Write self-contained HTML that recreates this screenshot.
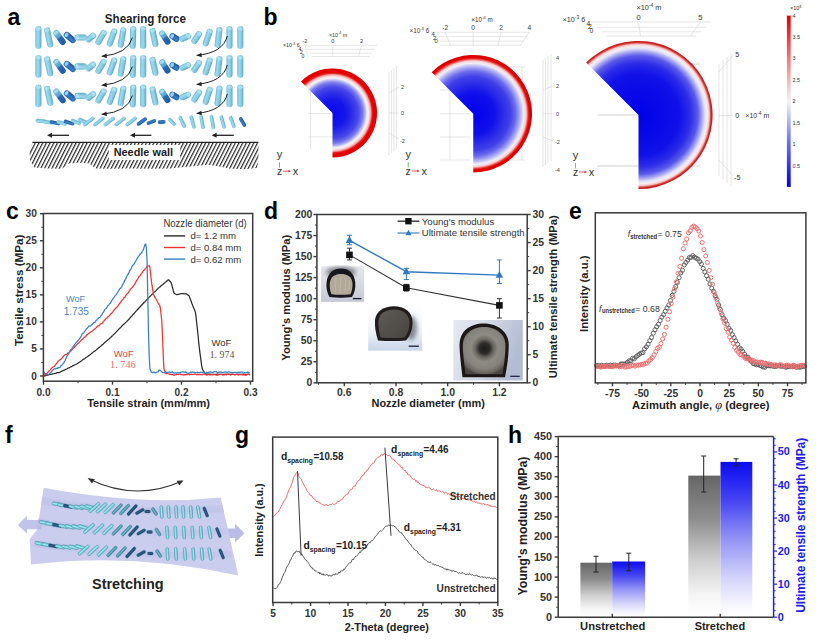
<!DOCTYPE html><html><head><meta charset="utf-8"><title>Figure</title>
<style>html,body{margin:0;padding:0;background:#fff;}svg{display:block;}</style>
</head><body>
<svg width="820" height="640" viewBox="0 0 820 640">
<rect width="820" height="640" fill="#fff"/>
<defs>
<linearGradient id="cylL" x1="0" y1="0" x2="1" y2="0">
 <stop offset="0" stop-color="#68b6d4"/><stop offset="0.3" stop-color="#9ed9ec"/><stop offset="0.6" stop-color="#8ccfe5"/><stop offset="1" stop-color="#5aa8c9"/>
</linearGradient>
<linearGradient id="cylD" x1="0" y1="0" x2="1" y2="0">
 <stop offset="0" stop-color="#1d5fa8"/><stop offset="0.4" stop-color="#3d80c4"/><stop offset="1" stop-color="#1a509a"/>
</linearGradient>
<linearGradient id="cylM" x1="0" y1="0" x2="0" y2="1">
 <stop offset="0" stop-color="#7cc4df"/><stop offset="0.45" stop-color="#5aa3d0"/><stop offset="0.55" stop-color="#2a69b3"/><stop offset="1" stop-color="#1f5aa3"/>
</linearGradient>
<linearGradient id="barGray" x1="0" y1="0" x2="0" y2="1">
 <stop offset="0" stop-color="#666"/><stop offset="0.3" stop-color="#8c8c8c"/><stop offset="0.6" stop-color="#cfcfcf"/><stop offset="0.85" stop-color="#f6f6f6"/><stop offset="1" stop-color="#fff"/>
</linearGradient>
<linearGradient id="barBlue" x1="0" y1="0" x2="0" y2="1">
 <stop offset="0" stop-color="#0a0af0"/><stop offset="0.25" stop-color="#4545f2"/><stop offset="0.5" stop-color="#9494f6"/><stop offset="0.75" stop-color="#d4d4fb"/><stop offset="0.92" stop-color="#f6f6fe"/><stop offset="1" stop-color="#fff"/>
</linearGradient>
<linearGradient id="cbar" x1="0" y1="1" x2="0" y2="0">
 <stop offset="0" stop-color="#0000e8"/><stop offset="0.25" stop-color="#6a6af0"/><stop offset="0.5" stop-color="#f4f4f8"/><stop offset="0.75" stop-color="#ee7a7a"/><stop offset="1" stop-color="#e00000"/>
</linearGradient>
<linearGradient id="sheet" x1="0" y1="0" x2="1" y2="1">
 <stop offset="0" stop-color="#c4c7ec"/><stop offset="1" stop-color="#c9cbe9"/>
</linearGradient>
<linearGradient id="ph1" x1="0" y1="0" x2="0" y2="1">
 <stop offset="0" stop-color="#e6e8ee"/><stop offset="1" stop-color="#c6cad6"/>
</linearGradient>
<linearGradient id="ph2" x1="0" y1="0" x2="0" y2="1">
 <stop offset="0" stop-color="#ffffff"/><stop offset="0.6" stop-color="#eef2f8"/><stop offset="1" stop-color="#c8d4e8"/>
</linearGradient>
<linearGradient id="ph3" x1="0" y1="0" x2="1" y2="1">
 <stop offset="0" stop-color="#f2f4f8"/><stop offset="0.5" stop-color="#d4dae6"/><stop offset="1" stop-color="#b4bed2"/>
</linearGradient>
<radialGradient id="in1" cx="0.5" cy="0.5" r="0.5">
 <stop offset="0" stop-color="#b5ad9e"/><stop offset="0.8" stop-color="#a49c8c"/><stop offset="1" stop-color="#6a645a"/>
</radialGradient>
<radialGradient id="in2" cx="0.5" cy="0.5" r="0.5">
 <stop offset="0" stop-color="#6a655d"/><stop offset="0.8" stop-color="#4e4a44"/><stop offset="1" stop-color="#2a2826"/>
</radialGradient>
<radialGradient id="in3" cx="0.5" cy="0.45" r="0.5">
 <stop offset="0" stop-color="#1e1c1a"/><stop offset="0.28" stop-color="#3a3734"/><stop offset="0.45" stop-color="#8a8680"/><stop offset="0.85" stop-color="#96928a"/><stop offset="1" stop-color="#4a4640"/>
</radialGradient>
<filter id="blur1" x="-20%" y="-20%" width="140%" height="140%"><feGaussianBlur stdDeviation="1.2"/></filter>
<filter id="blur2" x="-20%" y="-20%" width="140%" height="140%"><feGaussianBlur stdDeviation="2.2"/></filter>
<filter id="blur05"><feGaussianBlur stdDeviation="0.5"/></filter>
<pattern id="hatch" patternUnits="userSpaceOnUse" width="3.3" height="3.3" patternTransform="rotate(27)">
 <rect width="3.3" height="3.3" fill="#fff"/><rect x="0" y="0" width="1.2" height="3.3" fill="#2a2a2a"/>
</pattern>
</defs>
<text x="7.5" y="25.4" font-size="23" font-weight="bold" text-anchor="start" fill="#000" font-family='"Liberation Sans", Arial, sans-serif' >a</text>
<text x="145.4" y="22.7" font-size="12.4" font-weight="bold" text-anchor="middle" fill="#222" font-family='"Liberation Sans", Arial, sans-serif' textLength="81.1" lengthAdjust="spacingAndGlyphs" >Shearing force</text>
<g transform="translate(38.4,37.5) rotate(0)"><rect x="-3.05" y="-11.5" width="6.1" height="23" rx="3.05" ry="3.05" fill="url(#cylL)"/><ellipse cx="0" cy="-8.75" rx="2.44" ry="1.68" fill="#b4e4f2" opacity="0.8"/></g>
<g transform="translate(48.7,37.5) rotate(-12)"><rect x="-3.05" y="-10.25" width="6.1" height="20.5" rx="3.05" ry="3.05" fill="url(#cylL)"/><ellipse cx="0" cy="-7.5" rx="2.44" ry="1.68" fill="#b4e4f2" opacity="0.8"/></g>
<g transform="translate(59.5,37.5) rotate(-36)"><rect x="-3.05" y="-8.5" width="6.1" height="17" rx="3.05" ry="3.05" fill="url(#cylM)"/><ellipse cx="0" cy="-5.75" rx="2.44" ry="1.68" fill="#b4e4f2" opacity="0.8"/></g>
<g transform="translate(69.8,37.5) rotate(-50)"><rect x="-3.05" y="-7" width="6.1" height="14" rx="3.05" ry="3.05" fill="url(#cylD)"/><ellipse cx="0" cy="-4.25" rx="2.44" ry="1.68" fill="#b4e4f2" opacity="0.8"/></g>
<g transform="translate(80.7,37.5) rotate(-90)"><rect x="-3.05" y="-6.25" width="6.1" height="12.5" rx="3.05" ry="3.05" fill="url(#cylL)"/><ellipse cx="0" cy="-3.5" rx="2.44" ry="1.68" fill="#b4e4f2" opacity="0.8"/></g>
<g transform="translate(90.8,37.5) rotate(51)"><rect x="-3.05" y="-6" width="6.1" height="12" rx="3.05" ry="3.05" fill="url(#cylL)"/><ellipse cx="0" cy="-3.25" rx="2.44" ry="1.68" fill="#b4e4f2" opacity="0.8"/></g>
<g transform="translate(101,37.5) rotate(30)"><rect x="-3.05" y="-8.25" width="6.1" height="16.5" rx="3.05" ry="3.05" fill="url(#cylL)"/><ellipse cx="0" cy="-5.5" rx="2.44" ry="1.68" fill="#b4e4f2" opacity="0.8"/></g>
<g transform="translate(112,37.5) rotate(20)"><rect x="-3.05" y="-9.5" width="6.1" height="19" rx="3.05" ry="3.05" fill="url(#cylL)"/><ellipse cx="0" cy="-6.75" rx="2.44" ry="1.68" fill="#b4e4f2" opacity="0.8"/></g>
<g transform="translate(122,37.5) rotate(10)"><rect x="-3.05" y="-10.5" width="6.1" height="21" rx="3.05" ry="3.05" fill="url(#cylL)"/><ellipse cx="0" cy="-7.75" rx="2.44" ry="1.68" fill="#b4e4f2" opacity="0.8"/></g>
<g transform="translate(133,37.5) rotate(2)"><rect x="-3.05" y="-11.5" width="6.1" height="23" rx="3.05" ry="3.05" fill="url(#cylL)"/><ellipse cx="0" cy="-8.75" rx="2.44" ry="1.68" fill="#b4e4f2" opacity="0.8"/></g>
<g transform="translate(143.2,37.5) rotate(0)"><rect x="-3.05" y="-11.5" width="6.1" height="23" rx="3.05" ry="3.05" fill="url(#cylL)"/><ellipse cx="0" cy="-8.75" rx="2.44" ry="1.68" fill="#b4e4f2" opacity="0.8"/></g>
<g transform="translate(154,37.5) rotate(-12)"><rect x="-3.05" y="-9.75" width="6.1" height="19.5" rx="3.05" ry="3.05" fill="url(#cylL)"/><ellipse cx="0" cy="-7" rx="2.44" ry="1.68" fill="#b4e4f2" opacity="0.8"/></g>
<g transform="translate(164.8,37.5) rotate(-33)"><rect x="-3.05" y="-8" width="6.1" height="16" rx="3.05" ry="3.05" fill="url(#cylM)"/><ellipse cx="0" cy="-5.25" rx="2.44" ry="1.68" fill="#b4e4f2" opacity="0.8"/></g>
<g transform="translate(174.5,37.5) rotate(-58)"><rect x="-3.05" y="-5.5" width="6.1" height="11" rx="3.05" ry="3.05" fill="url(#cylD)"/><ellipse cx="0" cy="-2.75" rx="2.44" ry="1.68" fill="#b4e4f2" opacity="0.8"/></g>
<g transform="translate(185.3,37.5) rotate(65)"><rect x="-3.05" y="-6" width="6.1" height="12" rx="3.05" ry="3.05" fill="url(#cylL)"/><ellipse cx="0" cy="-3.25" rx="2.44" ry="1.68" fill="#b4e4f2" opacity="0.8"/></g>
<g transform="translate(196.7,37.5) rotate(33)"><rect x="-3.05" y="-7.25" width="6.1" height="14.5" rx="3.05" ry="3.05" fill="url(#cylL)"/><ellipse cx="0" cy="-4.5" rx="2.44" ry="1.68" fill="#b4e4f2" opacity="0.8"/></g>
<g transform="translate(207.7,37.5) rotate(18)"><rect x="-3.05" y="-9.25" width="6.1" height="18.5" rx="3.05" ry="3.05" fill="url(#cylL)"/><ellipse cx="0" cy="-6.5" rx="2.44" ry="1.68" fill="#b4e4f2" opacity="0.8"/></g>
<g transform="translate(218.5,37.5) rotate(7)"><rect x="-3.05" y="-10.5" width="6.1" height="21" rx="3.05" ry="3.05" fill="url(#cylL)"/><ellipse cx="0" cy="-7.75" rx="2.44" ry="1.68" fill="#b4e4f2" opacity="0.8"/></g>
<g transform="translate(229.5,37.5) rotate(0)"><rect x="-3.05" y="-11.5" width="6.1" height="23" rx="3.05" ry="3.05" fill="url(#cylL)"/><ellipse cx="0" cy="-8.75" rx="2.44" ry="1.68" fill="#b4e4f2" opacity="0.8"/></g>
<g transform="translate(240.3,37.5) rotate(0)"><rect x="-3.05" y="-11.5" width="6.1" height="23" rx="3.05" ry="3.05" fill="url(#cylL)"/><ellipse cx="0" cy="-8.75" rx="2.44" ry="1.68" fill="#b4e4f2" opacity="0.8"/></g>
<g transform="translate(38.4,66.4) rotate(0)"><rect x="-3.05" y="-11.5" width="6.1" height="23" rx="3.05" ry="3.05" fill="url(#cylL)"/><ellipse cx="0" cy="-8.75" rx="2.44" ry="1.68" fill="#b4e4f2" opacity="0.8"/></g>
<g transform="translate(48.7,66.4) rotate(-12)"><rect x="-3.05" y="-10.25" width="6.1" height="20.5" rx="3.05" ry="3.05" fill="url(#cylL)"/><ellipse cx="0" cy="-7.5" rx="2.44" ry="1.68" fill="#b4e4f2" opacity="0.8"/></g>
<g transform="translate(59.5,66.4) rotate(-36)"><rect x="-3.05" y="-8.5" width="6.1" height="17" rx="3.05" ry="3.05" fill="url(#cylM)"/><ellipse cx="0" cy="-5.75" rx="2.44" ry="1.68" fill="#b4e4f2" opacity="0.8"/></g>
<g transform="translate(69.8,66.4) rotate(-50)"><rect x="-3.05" y="-7" width="6.1" height="14" rx="3.05" ry="3.05" fill="url(#cylD)"/><ellipse cx="0" cy="-4.25" rx="2.44" ry="1.68" fill="#b4e4f2" opacity="0.8"/></g>
<g transform="translate(80.7,66.4) rotate(-90)"><rect x="-3.05" y="-6.25" width="6.1" height="12.5" rx="3.05" ry="3.05" fill="url(#cylL)"/><ellipse cx="0" cy="-3.5" rx="2.44" ry="1.68" fill="#b4e4f2" opacity="0.8"/></g>
<g transform="translate(90.8,66.4) rotate(51)"><rect x="-3.05" y="-6" width="6.1" height="12" rx="3.05" ry="3.05" fill="url(#cylL)"/><ellipse cx="0" cy="-3.25" rx="2.44" ry="1.68" fill="#b4e4f2" opacity="0.8"/></g>
<g transform="translate(101,66.4) rotate(30)"><rect x="-3.05" y="-8.25" width="6.1" height="16.5" rx="3.05" ry="3.05" fill="url(#cylL)"/><ellipse cx="0" cy="-5.5" rx="2.44" ry="1.68" fill="#b4e4f2" opacity="0.8"/></g>
<g transform="translate(112,66.4) rotate(20)"><rect x="-3.05" y="-9.5" width="6.1" height="19" rx="3.05" ry="3.05" fill="url(#cylL)"/><ellipse cx="0" cy="-6.75" rx="2.44" ry="1.68" fill="#b4e4f2" opacity="0.8"/></g>
<g transform="translate(122,66.4) rotate(10)"><rect x="-3.05" y="-10.5" width="6.1" height="21" rx="3.05" ry="3.05" fill="url(#cylL)"/><ellipse cx="0" cy="-7.75" rx="2.44" ry="1.68" fill="#b4e4f2" opacity="0.8"/></g>
<g transform="translate(133,66.4) rotate(2)"><rect x="-3.05" y="-11.5" width="6.1" height="23" rx="3.05" ry="3.05" fill="url(#cylL)"/><ellipse cx="0" cy="-8.75" rx="2.44" ry="1.68" fill="#b4e4f2" opacity="0.8"/></g>
<g transform="translate(143.2,66.4) rotate(0)"><rect x="-3.05" y="-11.5" width="6.1" height="23" rx="3.05" ry="3.05" fill="url(#cylL)"/><ellipse cx="0" cy="-8.75" rx="2.44" ry="1.68" fill="#b4e4f2" opacity="0.8"/></g>
<g transform="translate(154,66.4) rotate(-12)"><rect x="-3.05" y="-9.75" width="6.1" height="19.5" rx="3.05" ry="3.05" fill="url(#cylL)"/><ellipse cx="0" cy="-7" rx="2.44" ry="1.68" fill="#b4e4f2" opacity="0.8"/></g>
<g transform="translate(164.8,66.4) rotate(-33)"><rect x="-3.05" y="-8" width="6.1" height="16" rx="3.05" ry="3.05" fill="url(#cylM)"/><ellipse cx="0" cy="-5.25" rx="2.44" ry="1.68" fill="#b4e4f2" opacity="0.8"/></g>
<g transform="translate(174.5,66.4) rotate(-58)"><rect x="-3.05" y="-5.5" width="6.1" height="11" rx="3.05" ry="3.05" fill="url(#cylD)"/><ellipse cx="0" cy="-2.75" rx="2.44" ry="1.68" fill="#b4e4f2" opacity="0.8"/></g>
<g transform="translate(185.3,66.4) rotate(65)"><rect x="-3.05" y="-6" width="6.1" height="12" rx="3.05" ry="3.05" fill="url(#cylL)"/><ellipse cx="0" cy="-3.25" rx="2.44" ry="1.68" fill="#b4e4f2" opacity="0.8"/></g>
<g transform="translate(196.7,66.4) rotate(33)"><rect x="-3.05" y="-7.25" width="6.1" height="14.5" rx="3.05" ry="3.05" fill="url(#cylL)"/><ellipse cx="0" cy="-4.5" rx="2.44" ry="1.68" fill="#b4e4f2" opacity="0.8"/></g>
<g transform="translate(207.7,66.4) rotate(18)"><rect x="-3.05" y="-9.25" width="6.1" height="18.5" rx="3.05" ry="3.05" fill="url(#cylL)"/><ellipse cx="0" cy="-6.5" rx="2.44" ry="1.68" fill="#b4e4f2" opacity="0.8"/></g>
<g transform="translate(218.5,66.4) rotate(7)"><rect x="-3.05" y="-10.5" width="6.1" height="21" rx="3.05" ry="3.05" fill="url(#cylL)"/><ellipse cx="0" cy="-7.75" rx="2.44" ry="1.68" fill="#b4e4f2" opacity="0.8"/></g>
<g transform="translate(229.5,66.4) rotate(0)"><rect x="-3.05" y="-11.5" width="6.1" height="23" rx="3.05" ry="3.05" fill="url(#cylL)"/><ellipse cx="0" cy="-8.75" rx="2.44" ry="1.68" fill="#b4e4f2" opacity="0.8"/></g>
<g transform="translate(240.3,66.4) rotate(0)"><rect x="-3.05" y="-11.5" width="6.1" height="23" rx="3.05" ry="3.05" fill="url(#cylL)"/><ellipse cx="0" cy="-8.75" rx="2.44" ry="1.68" fill="#b4e4f2" opacity="0.8"/></g>
<g transform="translate(38.4,95.9) rotate(0)"><rect x="-3.05" y="-11.5" width="6.1" height="23" rx="3.05" ry="3.05" fill="url(#cylL)"/><ellipse cx="0" cy="-8.75" rx="2.44" ry="1.68" fill="#b4e4f2" opacity="0.8"/></g>
<g transform="translate(48.7,95.9) rotate(-12)"><rect x="-3.05" y="-10.25" width="6.1" height="20.5" rx="3.05" ry="3.05" fill="url(#cylL)"/><ellipse cx="0" cy="-7.5" rx="2.44" ry="1.68" fill="#b4e4f2" opacity="0.8"/></g>
<g transform="translate(59.5,95.9) rotate(-36)"><rect x="-3.05" y="-8.5" width="6.1" height="17" rx="3.05" ry="3.05" fill="url(#cylM)"/><ellipse cx="0" cy="-5.75" rx="2.44" ry="1.68" fill="#b4e4f2" opacity="0.8"/></g>
<g transform="translate(69.8,95.9) rotate(-50)"><rect x="-3.05" y="-7" width="6.1" height="14" rx="3.05" ry="3.05" fill="url(#cylD)"/><ellipse cx="0" cy="-4.25" rx="2.44" ry="1.68" fill="#b4e4f2" opacity="0.8"/></g>
<g transform="translate(80.7,95.9) rotate(-90)"><rect x="-3.05" y="-6.25" width="6.1" height="12.5" rx="3.05" ry="3.05" fill="url(#cylL)"/><ellipse cx="0" cy="-3.5" rx="2.44" ry="1.68" fill="#b4e4f2" opacity="0.8"/></g>
<g transform="translate(90.8,95.9) rotate(51)"><rect x="-3.05" y="-6" width="6.1" height="12" rx="3.05" ry="3.05" fill="url(#cylL)"/><ellipse cx="0" cy="-3.25" rx="2.44" ry="1.68" fill="#b4e4f2" opacity="0.8"/></g>
<g transform="translate(101,95.9) rotate(30)"><rect x="-3.05" y="-8.25" width="6.1" height="16.5" rx="3.05" ry="3.05" fill="url(#cylL)"/><ellipse cx="0" cy="-5.5" rx="2.44" ry="1.68" fill="#b4e4f2" opacity="0.8"/></g>
<g transform="translate(112,95.9) rotate(20)"><rect x="-3.05" y="-9.5" width="6.1" height="19" rx="3.05" ry="3.05" fill="url(#cylL)"/><ellipse cx="0" cy="-6.75" rx="2.44" ry="1.68" fill="#b4e4f2" opacity="0.8"/></g>
<g transform="translate(122,95.9) rotate(10)"><rect x="-3.05" y="-10.5" width="6.1" height="21" rx="3.05" ry="3.05" fill="url(#cylL)"/><ellipse cx="0" cy="-7.75" rx="2.44" ry="1.68" fill="#b4e4f2" opacity="0.8"/></g>
<g transform="translate(133,95.9) rotate(2)"><rect x="-3.05" y="-11.5" width="6.1" height="23" rx="3.05" ry="3.05" fill="url(#cylL)"/><ellipse cx="0" cy="-8.75" rx="2.44" ry="1.68" fill="#b4e4f2" opacity="0.8"/></g>
<g transform="translate(143.2,95.9) rotate(0)"><rect x="-3.05" y="-11.5" width="6.1" height="23" rx="3.05" ry="3.05" fill="url(#cylL)"/><ellipse cx="0" cy="-8.75" rx="2.44" ry="1.68" fill="#b4e4f2" opacity="0.8"/></g>
<g transform="translate(154,95.9) rotate(-12)"><rect x="-3.05" y="-9.75" width="6.1" height="19.5" rx="3.05" ry="3.05" fill="url(#cylL)"/><ellipse cx="0" cy="-7" rx="2.44" ry="1.68" fill="#b4e4f2" opacity="0.8"/></g>
<g transform="translate(164.8,95.9) rotate(-33)"><rect x="-3.05" y="-8" width="6.1" height="16" rx="3.05" ry="3.05" fill="url(#cylM)"/><ellipse cx="0" cy="-5.25" rx="2.44" ry="1.68" fill="#b4e4f2" opacity="0.8"/></g>
<g transform="translate(174.5,95.9) rotate(-58)"><rect x="-3.05" y="-5.5" width="6.1" height="11" rx="3.05" ry="3.05" fill="url(#cylD)"/><ellipse cx="0" cy="-2.75" rx="2.44" ry="1.68" fill="#b4e4f2" opacity="0.8"/></g>
<g transform="translate(185.3,95.9) rotate(65)"><rect x="-3.05" y="-6" width="6.1" height="12" rx="3.05" ry="3.05" fill="url(#cylL)"/><ellipse cx="0" cy="-3.25" rx="2.44" ry="1.68" fill="#b4e4f2" opacity="0.8"/></g>
<g transform="translate(196.7,95.9) rotate(33)"><rect x="-3.05" y="-7.25" width="6.1" height="14.5" rx="3.05" ry="3.05" fill="url(#cylL)"/><ellipse cx="0" cy="-4.5" rx="2.44" ry="1.68" fill="#b4e4f2" opacity="0.8"/></g>
<g transform="translate(207.7,95.9) rotate(18)"><rect x="-3.05" y="-9.25" width="6.1" height="18.5" rx="3.05" ry="3.05" fill="url(#cylL)"/><ellipse cx="0" cy="-6.5" rx="2.44" ry="1.68" fill="#b4e4f2" opacity="0.8"/></g>
<g transform="translate(218.5,95.9) rotate(7)"><rect x="-3.05" y="-10.5" width="6.1" height="21" rx="3.05" ry="3.05" fill="url(#cylL)"/><ellipse cx="0" cy="-7.75" rx="2.44" ry="1.68" fill="#b4e4f2" opacity="0.8"/></g>
<g transform="translate(229.5,95.9) rotate(0)"><rect x="-3.05" y="-11.5" width="6.1" height="23" rx="3.05" ry="3.05" fill="url(#cylL)"/><ellipse cx="0" cy="-8.75" rx="2.44" ry="1.68" fill="#b4e4f2" opacity="0.8"/></g>
<g transform="translate(240.3,95.9) rotate(0)"><rect x="-3.05" y="-11.5" width="6.1" height="23" rx="3.05" ry="3.05" fill="url(#cylL)"/><ellipse cx="0" cy="-8.75" rx="2.44" ry="1.68" fill="#b4e4f2" opacity="0.8"/></g>
<g transform="translate(41,121) rotate(-84)"><rect x="-1.8" y="-5.5" width="3.6" height="11" rx="1.8" ry="1.8" fill="url(#cylL)"/></g>
<g transform="translate(48,122.2) rotate(-81)"><rect x="-1.8" y="-5.5" width="3.6" height="11" rx="1.8" ry="1.8" fill="url(#cylL)"/></g>
<g transform="translate(55,122.8) rotate(-78)"><rect x="-1.8" y="-5.5" width="3.6" height="11" rx="1.8" ry="1.8" fill="url(#cylD)"/></g>
<g transform="translate(62,123) rotate(-75)"><rect x="-1.8" y="-5.5" width="3.6" height="11" rx="1.8" ry="1.8" fill="url(#cylL)"/></g>
<g transform="translate(69,122.6) rotate(-72)"><rect x="-1.8" y="-5.5" width="3.6" height="11" rx="1.8" ry="1.8" fill="url(#cylD)"/></g>
<g transform="translate(76,122) rotate(-69)"><rect x="-1.8" y="-5.5" width="3.6" height="11" rx="1.8" ry="1.8" fill="url(#cylL)"/></g>
<g transform="translate(83,121) rotate(-66)"><rect x="-1.8" y="-5.5" width="3.6" height="11" rx="1.8" ry="1.8" fill="url(#cylL)"/></g>
<g transform="translate(88.8,121.5) rotate(52)"><rect x="-1.8" y="-7" width="3.6" height="14" rx="1.8" ry="1.8" fill="url(#cylL)"/></g>
<g transform="translate(99,121.5) rotate(52)"><rect x="-1.8" y="-7" width="3.6" height="14" rx="1.8" ry="1.8" fill="url(#cylL)"/></g>
<g transform="translate(109.3,121.5) rotate(52)"><rect x="-1.8" y="-7" width="3.6" height="14" rx="1.8" ry="1.8" fill="url(#cylL)"/></g>
<g transform="translate(120.2,121.5) rotate(52)"><rect x="-1.8" y="-7" width="3.6" height="14" rx="1.8" ry="1.8" fill="url(#cylL)"/></g>
<g transform="translate(131.2,121.5) rotate(52)"><rect x="-1.8" y="-7" width="3.6" height="14" rx="1.8" ry="1.8" fill="url(#cylL)"/></g>
<g transform="translate(141.9,121.5) rotate(55)"><rect x="-1.8" y="-6" width="3.6" height="12" rx="1.8" ry="1.8" fill="url(#cylD)"/></g>
<g transform="translate(151.4,122) rotate(70)"><rect x="-1.8" y="-5" width="3.6" height="10" rx="1.8" ry="1.8" fill="url(#cylD)"/></g>
<g transform="translate(161.7,122) rotate(88)"><rect x="-1.8" y="-4" width="3.6" height="8" rx="1.8" ry="1.8" fill="url(#cylD)"/></g>
<g transform="translate(172,122) rotate(-45)"><rect x="-1.8" y="-5" width="3.6" height="10" rx="1.8" ry="1.8" fill="url(#cylL)"/></g>
<g transform="translate(182.3,122) rotate(-25)"><rect x="-1.8" y="-6.5" width="3.6" height="13" rx="1.8" ry="1.8" fill="url(#cylL)"/></g>
<g transform="translate(192.6,122) rotate(-15)"><rect x="-1.8" y="-7" width="3.6" height="14" rx="1.8" ry="1.8" fill="url(#cylL)"/></g>
<g transform="translate(202.1,122) rotate(-10)"><rect x="-1.8" y="-7.25" width="3.6" height="14.5" rx="1.8" ry="1.8" fill="url(#cylL)"/></g>
<g transform="translate(212.4,122) rotate(-10)"><rect x="-1.8" y="-7.25" width="3.6" height="14.5" rx="1.8" ry="1.8" fill="url(#cylL)"/></g>
<g transform="translate(222.7,122) rotate(-15)"><rect x="-1.8" y="-7" width="3.6" height="14" rx="1.8" ry="1.8" fill="url(#cylL)"/></g>
<g transform="translate(232.3,122) rotate(-20)"><rect x="-1.8" y="-6.5" width="3.6" height="13" rx="1.8" ry="1.8" fill="url(#cylL)"/></g>
<g transform="translate(242.6,122) rotate(-30)"><rect x="-1.8" y="-5.5" width="3.6" height="11" rx="1.8" ry="1.8" fill="url(#cylD)"/></g>
<path d="M132.4,37.6 Q128,54 101.7,56.3" fill="none" stroke="#222" stroke-width="1"/>
<path d="M101.7,56.3 L106.48,53.57 L106.88,58.16 Z" fill="#222"/>
<path d="M227.3,36 Q223,53 196.6,55.4" fill="none" stroke="#222" stroke-width="1"/>
<path d="M196.6,55.4 L201.37,52.66 L201.79,57.24 Z" fill="#222"/>
<path d="M132.4,66.6 Q128,83 101.7,85.3" fill="none" stroke="#222" stroke-width="1"/>
<path d="M101.7,85.3 L106.48,82.57 L106.88,87.16 Z" fill="#222"/>
<path d="M227.3,65 Q223,82 196.6,84.4" fill="none" stroke="#222" stroke-width="1"/>
<path d="M196.6,84.4 L201.37,81.66 L201.79,86.24 Z" fill="#222"/>
<path d="M132.4,95.6 Q128,112 101.7,114.3" fill="none" stroke="#222" stroke-width="1"/>
<path d="M101.7,114.3 L106.48,111.57 L106.88,116.16 Z" fill="#222"/>
<path d="M227.3,94 Q223,111 196.6,113.4" fill="none" stroke="#222" stroke-width="1"/>
<path d="M196.6,113.4 L201.37,110.66 L201.79,115.24 Z" fill="#222"/>
<line x1="51" y1="135.3" x2="69" y2="135.3" stroke="#222" stroke-width="1.3" />
<path d="M47,135.3 L52,132.8 L52,137.8 Z" fill="#222"/>
<line x1="134" y1="135.3" x2="151.4" y2="135.3" stroke="#222" stroke-width="1.3" />
<path d="M130,135.3 L135,132.8 L135,137.8 Z" fill="#222"/>
<line x1="215.6" y1="135.3" x2="233.8" y2="135.3" stroke="#222" stroke-width="1.3" />
<path d="M211.6,135.3 L216.6,132.8 L216.6,137.8 Z" fill="#222"/>
<path d="M29.5,150 L32.5,143 L258.5,143 L258.5,160 L257,168 L245,169.3 L229,168.5 L217,166 L207,164.8 L196,166 L184.6,167 L170,168.5 L150,168.8 L130,168.6 L110,168.7 L96,168.5 L89,163.2 L78,162.8 L69,163.6 L62,168.7 L48,168.5 L34,167.5 L30,160 Z" fill="url(#hatch)"/>
<line x1="32.4" y1="142.4" x2="258.4" y2="142.4" stroke="#222" stroke-width="1.4" />
<rect x="108.8" y="145" width="71.4" height="15" fill="#fff"/>
<text x="143.35" y="155.6" font-size="11" font-weight="bold" text-anchor="middle" fill="#222" font-family='"Liberation Sans", Arial, sans-serif' textLength="59.3" lengthAdjust="spacingAndGlyphs" >Needle wall</text>
<text x="263.5" y="25" font-size="23" font-weight="bold" text-anchor="start" fill="#000" font-family='"Liberation Sans", Arial, sans-serif' >b</text>
<line x1="304.5" y1="45.4" x2="377" y2="45.4" stroke="#c6c6c6" stroke-width="0.45" />
<line x1="307" y1="49.3" x2="374.5" y2="49.3" stroke="#c6c6c6" stroke-width="0.45" />
<line x1="309.5" y1="53.2" x2="372" y2="53.2" stroke="#c6c6c6" stroke-width="0.45" />
<line x1="312" y1="56.5" x2="369.5" y2="56.5" stroke="#c6c6c6" stroke-width="0.45" />
<line x1="305" y1="45.4" x2="308" y2="56.5" stroke="#c6c6c6" stroke-width="0.45" />
<text x="305" y="43.2" font-size="5.6" font-weight="normal" text-anchor="middle" fill="#333" font-family='"Liberation Sans", Arial, sans-serif' >-2</text>
<line x1="332.7" y1="45.4" x2="332.7" y2="56.5" stroke="#c6c6c6" stroke-width="0.45" />
<text x="332.7" y="43.2" font-size="5.6" font-weight="normal" text-anchor="middle" fill="#333" font-family='"Liberation Sans", Arial, sans-serif' >0</text>
<line x1="361.5" y1="45.4" x2="358.5" y2="56.5" stroke="#c6c6c6" stroke-width="0.45" />
<text x="361.5" y="43.2" font-size="5.6" font-weight="normal" text-anchor="middle" fill="#333" font-family='"Liberation Sans", Arial, sans-serif' >2</text>
<text x="338" y="36.5" font-size="5.319999999999999" text-anchor="middle" fill="#333" font-family='"Liberation Sans", Arial, sans-serif'>×10<tspan font-size="3.72" dy="-2.13">-4</tspan><tspan dy="2.13"> m</tspan></text>
<text x="283" y="47.2" font-size="5.319999999999999" text-anchor="start" fill="#333" font-family='"Liberation Sans", Arial, sans-serif'>×10<tspan font-size="3.72" dy="-2.13">-3</tspan><tspan dy="2.13"> 6</tspan></text>
<text x="298.5" y="50.5" font-size="5.04" font-weight="normal" text-anchor="start" fill="#333" font-family='"Liberation Sans", Arial, sans-serif' >4</text>
<text x="300" y="54" font-size="5.04" font-weight="normal" text-anchor="start" fill="#333" font-family='"Liberation Sans", Arial, sans-serif' >2</text>
<text x="301.5" y="57.5" font-size="5.04" font-weight="normal" text-anchor="start" fill="#333" font-family='"Liberation Sans", Arial, sans-serif' >0</text>
<line x1="310.6" y1="89" x2="310.6" y2="149.5" stroke="#c6c6c6" stroke-width="0.45" />
<line x1="308" y1="113.4" x2="333" y2="113.4" stroke="#c6c6c6" stroke-width="0.45" />
<line x1="308" y1="136.9" x2="333" y2="136.9" stroke="#c6c6c6" stroke-width="0.45" />
<line x1="308" y1="92" x2="320" y2="92" stroke="#c6c6c6" stroke-width="0.45" />
<line x1="389" y1="72" x2="389" y2="155" stroke="#c6c6c6" stroke-width="0.45" />
<line x1="391.5" y1="70" x2="391.5" y2="153" stroke="#c6c6c6" stroke-width="0.45" />
<line x1="394" y1="68" x2="394" y2="151" stroke="#c6c6c6" stroke-width="0.45" />
<line x1="396.5" y1="66" x2="396.5" y2="149" stroke="#c6c6c6" stroke-width="0.45" />
<line x1="389" y1="93" x2="399" y2="87" stroke="#c6c6c6" stroke-width="0.45" />
<line x1="389" y1="113" x2="399" y2="113" stroke="#c6c6c6" stroke-width="0.45" />
<line x1="389" y1="133" x2="399" y2="139" stroke="#c6c6c6" stroke-width="0.45" />
<text x="401" y="89" font-size="5.5" font-weight="normal" text-anchor="start" fill="#333" font-family='"Liberation Sans", Arial, sans-serif' >2</text>
<text x="401" y="115" font-size="5.5" font-weight="normal" text-anchor="start" fill="#333" font-family='"Liberation Sans", Arial, sans-serif' >0</text>
<text x="400" y="143" font-size="5.5" font-weight="normal" text-anchor="start" fill="#333" font-family='"Liberation Sans", Arial, sans-serif' >-2</text>
<radialGradient id="pie1" gradientUnits="userSpaceOnUse" cx="332.5" cy="113" r="44.6"><stop offset="0" stop-color="#0808ee"/><stop offset="0.3" stop-color="#1616ea"/><stop offset="0.45" stop-color="#2e2ee8"/><stop offset="0.58" stop-color="#4848e8"/><stop offset="0.68" stop-color="#7a7aec"/><stop offset="0.74" stop-color="#bcbcf4"/><stop offset="0.78" stop-color="#f2f2fa"/><stop offset="0.82" stop-color="#f8e2e2"/><stop offset="0.86" stop-color="#f2a0a0"/><stop offset="0.89" stop-color="#e82020"/><stop offset="0.92" stop-color="#e60000"/><stop offset="1" stop-color="#e00000"/></radialGradient>
<path d="M332.5,113 L300.96,81.46 A44.6,44.6 0 1 1 332.5,157.6 Z" fill="url(#pie1)"/>
<line x1="431" y1="32.3" x2="530" y2="32.3" stroke="#c6c6c6" stroke-width="0.45" />
<line x1="434" y1="36.7" x2="527" y2="36.7" stroke="#c6c6c6" stroke-width="0.45" />
<line x1="437" y1="41.1" x2="524" y2="41.1" stroke="#c6c6c6" stroke-width="0.45" />
<line x1="440" y1="45.2" x2="521" y2="45.2" stroke="#c6c6c6" stroke-width="0.45" />
<line x1="445.3" y1="32.3" x2="450.3" y2="45.2" stroke="#c6c6c6" stroke-width="0.45" />
<text x="445.3" y="30.1" font-size="6.6" font-weight="normal" text-anchor="middle" fill="#333" font-family='"Liberation Sans", Arial, sans-serif' >-2</text>
<line x1="473.2" y1="32.3" x2="473.2" y2="45.2" stroke="#c6c6c6" stroke-width="0.45" />
<text x="473.2" y="30.1" font-size="6.6" font-weight="normal" text-anchor="middle" fill="#333" font-family='"Liberation Sans", Arial, sans-serif' >0</text>
<line x1="501" y1="32.3" x2="498" y2="45.2" stroke="#c6c6c6" stroke-width="0.45" />
<text x="501" y="30.1" font-size="6.6" font-weight="normal" text-anchor="middle" fill="#333" font-family='"Liberation Sans", Arial, sans-serif' >2</text>
<line x1="529.3" y1="32.3" x2="520.3" y2="45.2" stroke="#c6c6c6" stroke-width="0.45" />
<text x="529.3" y="30.1" font-size="6.6" font-weight="normal" text-anchor="middle" fill="#333" font-family='"Liberation Sans", Arial, sans-serif' >4</text>
<text x="482" y="22" font-size="6.27" text-anchor="middle" fill="#333" font-family='"Liberation Sans", Arial, sans-serif'>×10<tspan font-size="4.39" dy="-2.51">-4</tspan><tspan dy="2.51"> m</tspan></text>
<text x="409.5" y="32.8" font-size="6.27" text-anchor="start" fill="#333" font-family='"Liberation Sans", Arial, sans-serif'>×10<tspan font-size="4.39" dy="-2.51">-3</tspan><tspan dy="2.51"> 6</tspan></text>
<text x="431.5" y="36" font-size="5.9399999999999995" font-weight="normal" text-anchor="start" fill="#333" font-family='"Liberation Sans", Arial, sans-serif' >4</text>
<text x="433" y="39.5" font-size="5.9399999999999995" font-weight="normal" text-anchor="start" fill="#333" font-family='"Liberation Sans", Arial, sans-serif' >2</text>
<text x="434.5" y="43" font-size="5.9399999999999995" font-weight="normal" text-anchor="start" fill="#333" font-family='"Liberation Sans", Arial, sans-serif' >0</text>
<line x1="450" y1="67" x2="450" y2="160" stroke="#c6c6c6" stroke-width="0.45" />
<line x1="440" y1="90" x2="470" y2="90" stroke="#c6c6c6" stroke-width="0.45" />
<line x1="440" y1="113.7" x2="470" y2="113.7" stroke="#c6c6c6" stroke-width="0.45" />
<line x1="440" y1="137" x2="470" y2="137" stroke="#c6c6c6" stroke-width="0.45" />
<line x1="440" y1="160" x2="470" y2="160" stroke="#c6c6c6" stroke-width="0.45" />
<line x1="522" y1="67" x2="522" y2="160" stroke="#c6c6c6" stroke-width="0.45" />
<line x1="490" y1="67" x2="525" y2="67" stroke="#c6c6c6" stroke-width="0.45" />
<line x1="490" y1="160" x2="525" y2="160" stroke="#c6c6c6" stroke-width="0.45" />
<line x1="543" y1="60" x2="543" y2="167" stroke="#c6c6c6" stroke-width="0.45" />
<line x1="545.5" y1="58" x2="545.5" y2="165" stroke="#c6c6c6" stroke-width="0.45" />
<line x1="548" y1="56" x2="548" y2="163" stroke="#c6c6c6" stroke-width="0.45" />
<line x1="551" y1="54" x2="551" y2="161" stroke="#c6c6c6" stroke-width="0.45" />
<line x1="543" y1="90" x2="553" y2="86" stroke="#c6c6c6" stroke-width="0.45" />
<line x1="543" y1="113.7" x2="553" y2="113.7" stroke="#c6c6c6" stroke-width="0.45" />
<line x1="543" y1="137" x2="553" y2="141" stroke="#c6c6c6" stroke-width="0.45" />
<text x="556" y="60" font-size="5.5" font-weight="normal" text-anchor="start" fill="#333" font-family='"Liberation Sans", Arial, sans-serif' >4</text>
<text x="556" y="88" font-size="5.5" font-weight="normal" text-anchor="start" fill="#333" font-family='"Liberation Sans", Arial, sans-serif' >2</text>
<text x="556" y="116" font-size="5.5" font-weight="normal" text-anchor="start" fill="#333" font-family='"Liberation Sans", Arial, sans-serif' >0</text>
<text x="555" y="144" font-size="5.5" font-weight="normal" text-anchor="start" fill="#333" font-family='"Liberation Sans", Arial, sans-serif' >-2</text>
<text x="555" y="172" font-size="5.5" font-weight="normal" text-anchor="start" fill="#333" font-family='"Liberation Sans", Arial, sans-serif' >-4</text>
<radialGradient id="pie2" gradientUnits="userSpaceOnUse" cx="473.25" cy="113.75" r="58.8"><stop offset="0" stop-color="#0000ee"/><stop offset="0.36" stop-color="#1010ea"/><stop offset="0.5" stop-color="#2a2ae8"/><stop offset="0.63" stop-color="#4040e8"/><stop offset="0.72" stop-color="#6a6aec"/><stop offset="0.8" stop-color="#b0b0f2"/><stop offset="0.86" stop-color="#f0f0f8"/><stop offset="0.9" stop-color="#f6d0d0"/><stop offset="0.935" stop-color="#ec3030"/><stop offset="0.955" stop-color="#e00000"/><stop offset="1" stop-color="#d80000"/></radialGradient>
<path d="M473.25,113.75 L431.67,72.17 A58.8,58.8 0 1 1 473.25,172.55 Z" fill="url(#pie2)"/>
<line x1="591" y1="22" x2="711" y2="22" stroke="#c6c6c6" stroke-width="0.45" />
<line x1="596" y1="27.3" x2="706" y2="27.3" stroke="#c6c6c6" stroke-width="0.45" />
<line x1="601" y1="31.8" x2="701" y2="31.8" stroke="#c6c6c6" stroke-width="0.45" />
<line x1="606" y1="36.1" x2="696" y2="36.1" stroke="#c6c6c6" stroke-width="0.45" />
<line x1="638.5" y1="22" x2="640.5" y2="36.1" stroke="#c6c6c6" stroke-width="0.45" />
<text x="638.5" y="19.8" font-size="7.6" font-weight="normal" text-anchor="middle" fill="#333" font-family='"Liberation Sans", Arial, sans-serif' >0</text>
<line x1="700.4" y1="22" x2="690.4" y2="36.1" stroke="#c6c6c6" stroke-width="0.45" />
<text x="700.4" y="19.8" font-size="7.6" font-weight="normal" text-anchor="middle" fill="#333" font-family='"Liberation Sans", Arial, sans-serif' >5</text>
<text x="649" y="10.3" font-size="7.22" text-anchor="middle" fill="#333" font-family='"Liberation Sans", Arial, sans-serif'>×10<tspan font-size="5.05" dy="-2.89">-4</tspan><tspan dy="2.89"> m</tspan></text>
<text x="562.5" y="22" font-size="7.22" text-anchor="start" fill="#333" font-family='"Liberation Sans", Arial, sans-serif'>×10<tspan font-size="5.05" dy="-2.89">-3</tspan><tspan dy="2.89"> 6</tspan></text>
<text x="586.5" y="25.5" font-size="6.84" font-weight="normal" text-anchor="start" fill="#333" font-family='"Liberation Sans", Arial, sans-serif' >4</text>
<text x="588" y="29" font-size="6.84" font-weight="normal" text-anchor="start" fill="#333" font-family='"Liberation Sans", Arial, sans-serif' >2</text>
<text x="589.5" y="32.5" font-size="6.84" font-weight="normal" text-anchor="start" fill="#333" font-family='"Liberation Sans", Arial, sans-serif' >0</text>
<line x1="597" y1="115" x2="640" y2="115" stroke="#a8a8a8" stroke-width="0.55" />
<line x1="597" y1="166" x2="640" y2="166" stroke="#a8a8a8" stroke-width="0.55" />
<line x1="692" y1="63" x2="692" y2="170" stroke="#a8a8a8" stroke-width="0.55" />
<line x1="690" y1="64" x2="700" y2="64" stroke="#a8a8a8" stroke-width="0.55" />
<line x1="690" y1="166" x2="700" y2="166" stroke="#a8a8a8" stroke-width="0.55" />
<line x1="719" y1="64" x2="719" y2="176" stroke="#c6c6c6" stroke-width="0.45" />
<line x1="723" y1="60.5" x2="723" y2="179.5" stroke="#c6c6c6" stroke-width="0.45" />
<line x1="727" y1="57" x2="727" y2="183" stroke="#c6c6c6" stroke-width="0.45" />
<line x1="731" y1="53.5" x2="731" y2="186.5" stroke="#c6c6c6" stroke-width="0.45" />
<line x1="719" y1="72" x2="733" y2="55" stroke="#c6c6c6" stroke-width="0.45" />
<line x1="719" y1="115.5" x2="733" y2="115.5" stroke="#c6c6c6" stroke-width="0.45" />
<line x1="719" y1="160" x2="733" y2="176" stroke="#c6c6c6" stroke-width="0.45" />
<text x="735.3" y="56.6" font-size="7.2" font-weight="normal" text-anchor="start" fill="#333" font-family='"Liberation Sans", Arial, sans-serif' >5</text>
<text x="735.3" y="118" font-size="7.2" font-weight="normal" text-anchor="start" fill="#333" font-family='"Liberation Sans", Arial, sans-serif' >0</text>
<text x="734" y="180" font-size="7.2" font-weight="normal" text-anchor="start" fill="#333" font-family='"Liberation Sans", Arial, sans-serif' >-5</text>
<text x="745.3" y="118" font-size="7" text-anchor="start" fill="#333" font-family='"Liberation Sans", Arial, sans-serif'>×10<tspan font-size="4.9" dy="-2.8">-4</tspan><tspan dy="2.8"> m</tspan></text>
<radialGradient id="pie3" gradientUnits="userSpaceOnUse" cx="638.5" cy="115" r="74.1"><stop offset="0" stop-color="#0000e8"/><stop offset="0.55" stop-color="#1010e8"/><stop offset="0.7" stop-color="#2c2ce8"/><stop offset="0.8" stop-color="#5a5aea"/><stop offset="0.86" stop-color="#a8a8f2"/><stop offset="0.9" stop-color="#e4e4f8"/><stop offset="0.93" stop-color="#f6eef0"/><stop offset="0.955" stop-color="#f4c4c4"/><stop offset="0.972" stop-color="#e05050"/><stop offset="0.985" stop-color="#cc2020"/><stop offset="1" stop-color="#c41c1c"/></radialGradient>
<path d="M638.5,115 L586.1,62.6 A74.1,74.1 0 1 1 638.5,189.1 Z" fill="url(#pie3)"/>
<text x="279.5" y="158.2" font-size="11" font-weight="normal" text-anchor="middle" fill="#333" font-family='"Liberation Sans", Arial, sans-serif' >y</text>
<line x1="279.5" y1="167.7" x2="279.5" y2="162.2" stroke="#3a3" stroke-width="0.7" />
<text x="279.5" y="174.9" font-size="10.5" font-weight="normal" text-anchor="middle" fill="#333" font-family='"Liberation Sans", Arial, sans-serif' >z</text>
<line x1="283" y1="171.2" x2="289.5" y2="171.2" stroke="#c33" stroke-width="0.8" />
<path d="M291,171.2 L288.5,169.9 L288.5,172.5 Z" fill="#c33"/>
<text x="295.5" y="175.1" font-size="11" font-weight="normal" text-anchor="middle" fill="#333" font-family='"Liberation Sans", Arial, sans-serif' >x</text>
<text x="408.2" y="158" font-size="11" font-weight="normal" text-anchor="middle" fill="#333" font-family='"Liberation Sans", Arial, sans-serif' >y</text>
<line x1="408.2" y1="167.5" x2="408.2" y2="162" stroke="#3a3" stroke-width="0.7" />
<text x="408.2" y="174.7" font-size="10.5" font-weight="normal" text-anchor="middle" fill="#333" font-family='"Liberation Sans", Arial, sans-serif' >z</text>
<line x1="411.7" y1="171" x2="418.2" y2="171" stroke="#c33" stroke-width="0.8" />
<path d="M419.7,171 L417.2,169.7 L417.2,172.3 Z" fill="#c33"/>
<text x="424.2" y="174.9" font-size="11" font-weight="normal" text-anchor="middle" fill="#333" font-family='"Liberation Sans", Arial, sans-serif' >x</text>
<text x="575.5" y="159" font-size="11" font-weight="normal" text-anchor="middle" fill="#333" font-family='"Liberation Sans", Arial, sans-serif' >y</text>
<line x1="575.5" y1="168.5" x2="575.5" y2="163" stroke="#3a3" stroke-width="0.7" />
<text x="575.5" y="175.7" font-size="10.5" font-weight="normal" text-anchor="middle" fill="#333" font-family='"Liberation Sans", Arial, sans-serif' >z</text>
<line x1="579" y1="172" x2="585.5" y2="172" stroke="#c33" stroke-width="0.8" />
<path d="M587,172 L584.5,170.7 L584.5,173.3 Z" fill="#c33"/>
<text x="591.5" y="175.9" font-size="11" font-weight="normal" text-anchor="middle" fill="#333" font-family='"Liberation Sans", Arial, sans-serif' >x</text>
<rect x="786.9" y="15.6" width="3.8" height="171.3" fill="url(#cbar)"/>
<text x="792.5" y="17.6" font-size="5.5" font-weight="normal" text-anchor="start" fill="#333" font-family='"Liberation Sans", Arial, sans-serif' >4</text>
<text x="792.5" y="38.9" font-size="5.5" font-weight="normal" text-anchor="start" fill="#333" font-family='"Liberation Sans", Arial, sans-serif' >3.5</text>
<text x="792.5" y="59.8" font-size="5.5" font-weight="normal" text-anchor="start" fill="#333" font-family='"Liberation Sans", Arial, sans-serif' >3</text>
<text x="792.5" y="81.7" font-size="5.5" font-weight="normal" text-anchor="start" fill="#333" font-family='"Liberation Sans", Arial, sans-serif' >2.5</text>
<text x="792.5" y="103" font-size="5.5" font-weight="normal" text-anchor="start" fill="#333" font-family='"Liberation Sans", Arial, sans-serif' >2</text>
<text x="792.5" y="124.5" font-size="5.5" font-weight="normal" text-anchor="start" fill="#333" font-family='"Liberation Sans", Arial, sans-serif' >1.5</text>
<text x="792.5" y="145.8" font-size="5.5" font-weight="normal" text-anchor="start" fill="#333" font-family='"Liberation Sans", Arial, sans-serif' >1</text>
<text x="792.5" y="167.6" font-size="5.5" font-weight="normal" text-anchor="start" fill="#333" font-family='"Liberation Sans", Arial, sans-serif' >0.5</text>
<text x="790" y="10" font-size="5.5" font-weight="normal" text-anchor="start" fill="#333" font-family='"Liberation Sans", Arial, sans-serif' >×10⁵</text>
<text x="6" y="218.7" font-size="23" font-weight="bold" text-anchor="start" fill="#000" font-family='"Liberation Sans", Arial, sans-serif' >c</text>
<polyline points="43.5,375.91 44.2,375.88 44.9,375.77 45.6,375.52 46.3,375.37 47,375.21 47.7,375.09 48.4,374.99 49.1,374.7 49.8,374.46 50.5,374.45 51.2,374.28 51.9,374.19 52.6,373.89 53.3,373.75 54,373.66 54.7,373.42 55.4,373.38 56.1,373.27 56.8,372.92 57.5,372.66 58.2,372.57 58.9,372.54 59.6,372.31 60.3,371.99 61,371.67 61.7,371.25 62.4,370.91 63.1,370.63 63.8,370.33 64.5,369.95 65.2,369.6 65.9,369.25 66.6,368.96 67.3,368.61 68,368.18 68.7,367.98 69.4,367.63 70.1,367.29 70.8,366.83 71.5,366.61 72.2,366.29 72.9,365.77 73.6,365.38 74.3,365.09 75,364.76 75.7,364.47 76.4,364.02 77.1,363.71 77.8,363.29 78.5,362.72 79.2,362.26 79.9,361.87 80.6,361.43 81.3,360.88 82,360.4 82.7,359.78 83.4,359.28 84.1,358.93 84.8,358.43 85.5,357.88 86.2,357.45 86.9,357.04 87.6,356.58 88.3,355.98 89,355.43 89.7,354.9 90.4,354.43 91.1,353.87 91.8,353.28 92.5,352.74 93.2,352.1 93.9,351.5 94.6,351.1 95.3,350.69 96,350.13 96.7,349.53 97.4,348.9 98.1,348.34 98.8,347.87 99.5,347.27 100.2,346.62 100.9,346.06 101.6,345.33 102.3,344.73 103,344.22 103.7,343.58 104.4,342.92 105.1,342.25 105.8,341.67 106.5,341.17 107.2,340.39 107.9,339.87 108.6,339.28 109.3,338.68 110,338.03 110.7,337.39 111.4,336.69 112.1,336.02 112.8,335.33 113.5,334.58 114.2,334.07 114.9,333.43 115.6,332.61 116.3,331.9 117,331.16 117.7,330.4 118.4,329.64 119.1,328.93 119.8,328.23 120.5,327.54 121.2,326.82 121.9,326.01 122.6,325.31 123.3,324.6 124,323.99 124.7,323.41 125.4,322.76 126.1,322.08 126.8,321.41 127.5,320.58 128.2,319.97 128.9,319.27 129.6,318.44 130.3,317.62 131,316.78 131.7,316.15 132.4,315.32 133.1,314.47 133.8,313.78 134.5,312.97 135.2,312.11 135.9,311.3 136.6,310.59 137.3,309.75 138,308.97 138.7,308.28 139.4,307.49 140.1,306.72 140.8,306.01 141.5,305.18 142.2,304.49 142.9,303.78 143.6,303.01 144.3,302.24 145,301.68 145.7,300.94 146.4,300.14 147.1,299.46 147.8,298.81 148.5,297.93 149.2,297.15 149.9,296.44 150.6,295.87 151.3,295.1 152,294.5 152.7,293.84 153.4,293.13 154.1,292.35 154.8,291.79 155.5,291.12 156.2,290.36 156.9,289.56 157.6,288.92 158.3,288.21 159,287.64 159.7,286.99 160.4,286.44 161.1,285.73 161.8,285.13 162.5,284.69 163.2,284.15 163.9,283.45 164.6,282.95 165.3,282.27 166,281.8 166.7,281.22 167.4,280.57 168.1,279.91 168.8,279.96 169.5,280.82 170.2,281.4 170.9,282.23 171.6,284.15 172.3,286.78 173,289.34 173.7,292.12 174.4,293.56 175.1,293.91 175.8,294.23 176.5,294.54 177.2,294.58 177.9,294.38 178.6,294.31 179.3,294.15 180,293.94 180.7,293.73 181.4,293.69 182.1,293.66 182.8,293.72 183.5,293.73 184.2,293.88 184.9,293.97 185.6,293.82 186.3,293.86 187,294.3 187.7,294.88 188.4,295.34 189.1,295.88 189.8,297.68 190.5,299.63 191.2,301.58 191.9,303.49 192.6,305.11 193.3,306.92 194,308.64 194.7,310.32 195.4,312.14 196.1,317.17 196.8,323.76 197.5,330.21 198.2,337.06 198.9,344.1 199.6,350.17 200.3,355.43 201,360.61 201.7,365.85 202.4,369.23 203.1,370.39 203.8,371.55 204.5,372.87 205.2,373.63 205.9,373.89 206.6,374.1 207.3,374.11 208,374.31 208.7,374.21 209.4,374.15 210.1,374.13 210.8,374.31 211.5,374.38 212.2,374.43 212.9,374.34 213.6,374.36 214.3,374.42 215,374.35 215.7,374.36 216.4,374.29 217.1,374.22 217.8,374.23 218.5,374.38 219.2,374.39 219.9,374.47 220.6,374.41 221.3,374.33 222,374.42 222.7,374.48 223.4,374.31 224.1,374.38 224.8,374.29 225.5,374.24 226.2,374.41 226.9,374.29 227.6,374.28 228.3,374.46 229,374.41 229.7,374.32 230.4,374.28 231.1,374.29 231.8,374.41 232.5,374.32 233.2,374.47 233.9,374.42 234.6,374.54 235.3,374.58 236,374.46 236.7,374.39 237.4,374.41 238.1,374.33 238.8,374.43 239.5,374.33 240.2,374.27 240.9,374.48 241.6,374.42 242.3,374.47 243,374.46 243.7,374.42 244.4,374.34 245.1,374.51 245.8,374.61 246.5,374.66 247.2,374.48 247.9,374.42 248.6,374.48 249.3,374.61 250,374.56" fill="none" stroke="#2a2a2a" stroke-width="1.25" stroke-linejoin="round" />
<polyline points="43.5,376.41 44.2,376 44.9,374.68 45.6,373.74 46.3,373.64 47,373.2 47.7,372.58 48.4,371.57 49.1,370.98 49.8,370.34 50.5,369.64 51.2,368.56 51.9,367.92 52.6,367.21 53.3,366.81 54,366.5 54.7,365.95 55.4,364.97 56.1,364.03 56.8,363.06 57.5,362.01 58.2,361.13 58.9,360.73 59.6,360.05 60.3,359.42 61,359.21 61.7,358.43 62.4,357.72 63.1,356.72 63.8,355.69 64.5,355.27 65.2,354.63 65.9,354.38 66.6,354.43 67.3,353.9 68,352.93 68.7,352.83 69.4,352.26 70.1,351.57 70.8,351.02 71.5,350.27 72.2,349.57 72.9,348.48 73.6,348.15 74.3,347.61 75,346.28 75.7,345.79 76.4,345.16 77.1,344.27 77.8,343.54 78.5,342.79 79.2,342.45 79.9,341.55 80.6,341.05 81.3,340.02 82,339.63 82.7,339.1 83.4,338.09 84.1,337.4 84.8,337.13 85.5,336.54 86.2,335.75 86.9,334.83 87.6,334.19 88.3,333.92 89,333.03 89.7,332.97 90.4,332.09 91.1,331.94 91.8,331.05 92.5,330.91 93.2,330.33 93.9,329.58 94.6,328.94 95.3,328.45 96,327.88 96.7,327.06 97.4,326.28 98.1,325.88 98.8,325.78 99.5,325.17 100.2,324.09 100.9,323.95 101.6,323.51 102.3,323.17 103,321.98 103.7,321.51 104.4,320.31 105.1,319.89 105.8,318.99 106.5,318.15 107.2,317.96 107.9,316.83 108.6,316.28 109.3,315.96 110,314.9 110.7,313.9 111.4,313.6 112.1,312.64 112.8,312.03 113.5,310.72 114.2,309.96 114.9,309.01 115.6,308.59 116.3,307.45 117,307.27 117.7,305.92 118.4,305.37 119.1,304.01 119.8,303.09 120.5,302.67 121.2,301.42 121.9,300.36 122.6,299.83 123.3,298.85 124,297.6 124.7,297.38 125.4,296.07 126.1,294.86 126.8,294.09 127.5,293.49 128.2,292.86 128.9,291.53 129.6,290.62 130.3,289.44 131,288.63 131.7,288 132.4,287.14 133.1,286.33 133.8,285.28 134.5,284.33 135.2,283.2 135.9,281.9 136.6,280.51 137.3,279.69 138,278.45 138.7,277.12 139.4,276.24 140.1,275.76 140.8,274.36 141.5,273.6 142.2,272.58 142.9,271.7 143.6,270.45 144.3,270.08 145,268.99 145.7,268.41 146.4,267.59 147.1,266.46 147.8,266.02 148.5,265.86 149.2,265.74 149.9,267.47 150.6,273.78 151.3,280.01 152,285.22 152.7,289.47 153.4,294.08 154.1,295.68 154.8,297.24 155.5,298.03 156.2,299.31 156.9,300.48 157.6,302.07 158.3,303.4 159,304.32 159.7,305.05 160.4,308.49 161.1,314.63 161.8,320.89 162.5,336.34 163.2,354.5 163.9,368.83 164.6,370.56 165.3,372.92 166,373.6 166.7,373.5 167.4,373.59 168.1,373.75 168.8,373.87 169.5,374.27 170.2,374.45 170.9,374.35 171.6,374.6 172.3,374.34 173,374.84 173.7,375.14 174.4,375.07 175.1,374.78 175.8,374.7 176.5,374.72 177.2,374.26 177.9,374.35 178.6,374.5 179.3,374.26 180,374.07 180.7,374.61 181.4,374.48 182.1,374.56 182.8,374.96 183.5,374.88 184.2,374.55 184.9,375.01 185.6,374.69 186.3,374.21 187,374.57 187.7,374.23 188.4,374.24 189.1,374.73 189.8,374.82 190.5,374.27 191.2,374.39 191.9,374.42 192.6,374.5 193.3,374.29 194,374.52 194.7,374.18 195.4,374.19 196.1,374.28 196.8,374.83 197.5,374.34 198.2,374.7 198.9,374.37 199.6,374.55 200.3,374.48 201,374.51 201.7,374.78 202.4,374.6 203.1,374.26 203.8,374.09 204.5,373.97 205.2,374.6 205.9,374.73 206.6,375.08 207.3,375.01 208,374.38 208.7,374.63 209.4,374.87 210.1,374.93 210.8,374.77 211.5,374.55 212.2,374.54 212.9,374.84 213.6,374.51 214.3,374.58 215,374.57 215.7,374.99 216.4,375.07 217.1,375.22 217.8,375.21 218.5,374.72 219.2,374.42 219.9,374.5 220.6,374.33 221.3,374.4 222,374.66 222.7,375.01 223.4,374.88 224.1,375.03 224.8,374.45 225.5,374.4 226.2,374.95 226.9,374.45 227.6,374.45 228.3,374.14 229,374 229.7,374.65 230.4,375.07 231.1,374.97 231.8,374.45 232.5,374.34 233.2,374.23 233.9,374.57 234.6,374.75 235.3,374.62 236,374.63 236.7,374.27 237.4,374.47 238.1,374.94 238.8,375 239.5,374.44 240.2,374.53 240.9,374.76 241.6,374.46 242.3,374.89 243,374.71 243.7,374.84 244.4,374.63 245.1,375.06 245.8,375.09 246.5,374.91 247.2,374.43 247.9,374.46 248.6,374.11 249.3,374.44 250,374.86" fill="none" stroke="#ee3333" stroke-width="1.25" stroke-linejoin="round" />
<polyline points="43.5,371.21 44.2,372.45 44.9,373.41 45.6,374.53 46.3,374.77 47,374.33 47.7,374.1 48.4,374.95 49.1,374.27 49.8,373.18 50.5,373 51.2,371.87 51.9,371.24 52.6,370.14 53.3,369.84 54,368.98 54.7,368.9 55.4,368.94 56.1,368.41 56.8,368.39 57.5,368.28 58.2,367.5 58.9,367.82 59.6,367.73 60.3,366.97 61,365.58 61.7,365.34 62.4,364.33 63.1,363.62 63.8,362.94 64.5,361.51 65.2,360.32 65.9,358.44 66.6,357.25 67.3,355.57 68,354.81 68.7,353.9 69.4,352.06 70.1,350.65 70.8,349.51 71.5,349.24 72.2,348 72.9,347.15 73.6,345.93 74.3,345.1 75,344.09 75.7,343.1 76.4,342.4 77.1,341.6 77.8,341.03 78.5,339.94 79.2,339.14 79.9,338.14 80.6,337.26 81.3,335.94 82,334.2 82.7,333.63 83.4,333.12 84.1,332.37 84.8,331.21 85.5,330.37 86.2,328.98 86.9,328.54 87.6,327.68 88.3,326.86 89,325.97 89.7,326.17 90.4,326.19 91.1,324.97 91.8,324.92 92.5,324.23 93.2,323.17 93.9,322.47 94.6,322.32 95.3,322.02 96,320.64 96.7,320.24 97.4,319.09 98.1,318.77 98.8,317.75 99.5,317.42 100.2,316.95 100.9,315.77 101.6,315.3 102.3,313.89 103,312.44 103.7,311.81 104.4,310.4 105.1,309.4 105.8,308.67 106.5,308.06 107.2,306.78 107.9,305.5 108.6,305.24 109.3,303.99 110,303.56 110.7,302.77 111.4,301.29 112.1,300.13 112.8,299.1 113.5,298.2 114.2,297.18 114.9,296.13 115.6,295.2 116.3,294.6 117,293.32 117.7,292.11 118.4,291.34 119.1,289.92 119.8,288.8 120.5,288.49 121.2,287.34 121.9,286.3 122.6,284.64 123.3,283.38 124,282.23 124.7,280.34 125.4,279.35 126.1,278.17 126.8,276.25 127.5,275.22 128.2,273.82 128.9,272.66 129.6,271.02 130.3,269.89 131,268.93 131.7,267.11 132.4,265.68 133.1,265.08 133.8,264.53 134.5,262.92 135.2,261.77 135.9,260.79 136.6,259.44 137.3,258.25 138,257.04 138.7,256.1 139.4,255.44 140.1,254.32 140.8,253.38 141.5,252.89 142.2,251.36 142.9,250.58 143.6,248.93 144.3,246.65 145,244.43 145.7,243.94 146.4,248.37 147.1,261.66 147.8,297.2 148.5,333.97 149.2,356.1 149.9,368.71 150.6,370.17 151.3,372.17 152,372.42 152.7,372.8 153.4,372.24 154.1,372.14 154.8,372.43 155.5,372.84 156.2,372.57 156.9,372.18 157.6,371.87 158.3,371.75 159,370.04 159.7,369.98 160.4,370.59 161.1,371.02 161.8,371.93 162.5,372.58 163.2,372.65 163.9,372.86 164.6,372.46 165.3,372.02 166,371.98 166.7,372.51 167.4,372.21 168.1,372.13 168.8,372.18 169.5,372.2 170.2,372.2 170.9,372.76 171.6,372.2 172.3,371.76 173,372.57 173.7,372.9 174.4,373.19 175.1,372.72 175.8,373.06 176.5,373.2 177.2,372.49 177.9,372.72 178.6,372.93 179.3,372.84 180,372.64 180.7,372.29 181.4,372.17 182.1,371.99 182.8,371.72 183.5,372.16 184.2,372.04 184.9,372.56 185.6,371.98 186.3,372.63 187,372.73 187.7,373.03 188.4,373.15 189.1,373.22 189.8,372.89 190.5,372.11 191.2,372.53 191.9,372.1 192.6,372.03 193.3,372.39 194,372.42 194.7,372.32 195.4,372.84 196.1,372.74 196.8,372.4 197.5,372.13 198.2,372.66 198.9,372.51 199.6,372.76 200.3,372.42 201,372.08 201.7,372.28 202.4,372.69 203.1,372.18 203.8,372.61 204.5,372.97 205.2,373.02 205.9,373.07 206.6,372.19 207.3,372.44 208,372.82 208.7,372.11 209.4,372.01 210.1,371.95 210.8,372.2 211.5,372.22 212.2,372.28 212.9,372.64 213.6,371.97 214.3,371.7 215,371.64 215.7,371.61 216.4,371.53 217.1,372.49 217.8,372.83 218.5,372.16 219.2,372.28 219.9,372.14 220.6,372.07 221.3,372.07 222,372.4 222.7,372.49 223.4,372.29 224.1,372.01 224.8,372.02 225.5,371.79 226.2,372.16 226.9,372.52 227.6,372.33 228.3,371.9 229,371.8 229.7,371.96 230.4,372.29 231.1,372.66 231.8,372.4 232.5,372.73 233.2,372.7 233.9,372.47 234.6,372.3 235.3,372.34 236,372.6 236.7,372.41 237.4,372.62 238.1,372.47 238.8,372.15 239.5,372.32 240.2,372.57 240.9,372.02 241.6,372.12 242.3,372.18 243,372.71 243.7,373.03 244.4,372.58 245.1,372.93 245.8,372.98 246.5,372.43 247.2,372.38 247.9,371.97 248.6,372.53 249.3,372.64 250,372.95" fill="none" stroke="#3a7fc4" stroke-width="1.25" stroke-linejoin="round" />
<rect x="43.4" y="213.5" width="209.3" height="167.7" fill="none" stroke="#3a3a3a" stroke-width="1.5"/>
<line x1="39.9" y1="376" x2="43.4" y2="376" stroke="#3a3a3a" stroke-width="1.4" />
<text x="36.8" y="379.5" font-size="10.1" font-weight="bold" text-anchor="end" fill="#333" font-family='"Liberation Sans", Arial, sans-serif' >0</text>
<line x1="39.9" y1="348.95" x2="43.4" y2="348.95" stroke="#3a3a3a" stroke-width="1.4" />
<text x="36.8" y="352.45" font-size="10.1" font-weight="bold" text-anchor="end" fill="#333" font-family='"Liberation Sans", Arial, sans-serif' >5</text>
<line x1="39.9" y1="321.9" x2="43.4" y2="321.9" stroke="#3a3a3a" stroke-width="1.4" />
<text x="36.8" y="325.4" font-size="10.1" font-weight="bold" text-anchor="end" fill="#333" font-family='"Liberation Sans", Arial, sans-serif' >10</text>
<line x1="39.9" y1="294.85" x2="43.4" y2="294.85" stroke="#3a3a3a" stroke-width="1.4" />
<text x="36.8" y="298.35" font-size="10.1" font-weight="bold" text-anchor="end" fill="#333" font-family='"Liberation Sans", Arial, sans-serif' >15</text>
<line x1="39.9" y1="267.8" x2="43.4" y2="267.8" stroke="#3a3a3a" stroke-width="1.4" />
<text x="36.8" y="271.3" font-size="10.1" font-weight="bold" text-anchor="end" fill="#333" font-family='"Liberation Sans", Arial, sans-serif' >20</text>
<line x1="39.9" y1="240.75" x2="43.4" y2="240.75" stroke="#3a3a3a" stroke-width="1.4" />
<text x="36.8" y="244.25" font-size="10.1" font-weight="bold" text-anchor="end" fill="#333" font-family='"Liberation Sans", Arial, sans-serif' >25</text>
<line x1="39.9" y1="213.7" x2="43.4" y2="213.7" stroke="#3a3a3a" stroke-width="1.4" />
<text x="36.8" y="217.2" font-size="10.1" font-weight="bold" text-anchor="end" fill="#333" font-family='"Liberation Sans", Arial, sans-serif' >30</text>
<line x1="41.4" y1="362.48" x2="43.4" y2="362.48" stroke="#3a3a3a" stroke-width="1" />
<line x1="41.4" y1="335.43" x2="43.4" y2="335.43" stroke="#3a3a3a" stroke-width="1" />
<line x1="41.4" y1="308.38" x2="43.4" y2="308.38" stroke="#3a3a3a" stroke-width="1" />
<line x1="41.4" y1="281.32" x2="43.4" y2="281.32" stroke="#3a3a3a" stroke-width="1" />
<line x1="41.4" y1="254.27" x2="43.4" y2="254.27" stroke="#3a3a3a" stroke-width="1" />
<line x1="41.4" y1="227.22" x2="43.4" y2="227.22" stroke="#3a3a3a" stroke-width="1" />
<line x1="43.5" y1="381.2" x2="43.5" y2="384.7" stroke="#3a3a3a" stroke-width="1.4" />
<text x="43.5" y="395.8" font-size="10.1" font-weight="bold" text-anchor="middle" fill="#333" font-family='"Liberation Sans", Arial, sans-serif' >0.0</text>
<line x1="112.5" y1="381.2" x2="112.5" y2="384.7" stroke="#3a3a3a" stroke-width="1.4" />
<text x="112.5" y="395.8" font-size="10.1" font-weight="bold" text-anchor="middle" fill="#333" font-family='"Liberation Sans", Arial, sans-serif' >0.1</text>
<line x1="181.5" y1="381.2" x2="181.5" y2="384.7" stroke="#3a3a3a" stroke-width="1.4" />
<text x="181.5" y="395.8" font-size="10.1" font-weight="bold" text-anchor="middle" fill="#333" font-family='"Liberation Sans", Arial, sans-serif' >0.2</text>
<line x1="250.5" y1="381.2" x2="250.5" y2="384.7" stroke="#3a3a3a" stroke-width="1.4" />
<text x="250.5" y="395.8" font-size="10.1" font-weight="bold" text-anchor="middle" fill="#333" font-family='"Liberation Sans", Arial, sans-serif' >0.3</text>
<line x1="78" y1="381.2" x2="78" y2="383.2" stroke="#3a3a3a" stroke-width="1" />
<line x1="147" y1="381.2" x2="147" y2="383.2" stroke="#3a3a3a" stroke-width="1" />
<line x1="216" y1="381.2" x2="216" y2="383.2" stroke="#3a3a3a" stroke-width="1" />
<text x="148.6" y="406.9" font-size="11.8" font-weight="bold" text-anchor="middle" fill="#222" font-family='"Liberation Sans", Arial, sans-serif' textLength="122.9" lengthAdjust="spacingAndGlyphs" >Tensile strain (mm/mm)</text>
<text x="0" y="0" transform="translate(23,290.4) rotate(-90)" font-size="11.8" font-weight="bold" text-anchor="middle" fill="#222" font-family='"Liberation Sans", Arial, sans-serif' textLength="111.4" lengthAdjust="spacingAndGlyphs">Tensile stress (MPa)</text>
<text x="163.4" y="226.6" font-size="10" font-weight="normal" text-anchor="start" fill="#333" font-family='"Liberation Sans", Arial, sans-serif' textLength="83.3" lengthAdjust="spacingAndGlyphs" >Nozzle diameter (d)</text>
<line x1="163.9" y1="235.9" x2="185.2" y2="235.9" stroke="#2a2a2a" stroke-width="1.4" />
<text x="190.4" y="239.3" font-size="9.6" font-weight="normal" text-anchor="start" fill="#333" font-family='"Liberation Sans", Arial, sans-serif' >d= 1.2 mm</text>
<line x1="163.9" y1="247.5" x2="185.2" y2="247.5" stroke="#ee3333" stroke-width="1.4" />
<text x="190.4" y="250.9" font-size="9.6" font-weight="normal" text-anchor="start" fill="#333" font-family='"Liberation Sans", Arial, sans-serif' >d= 0.84 mm</text>
<line x1="163.9" y1="259.1" x2="185.2" y2="259.1" stroke="#3a7fc4" stroke-width="1.4" />
<text x="190.4" y="262.5" font-size="9.6" font-weight="normal" text-anchor="start" fill="#333" font-family='"Liberation Sans", Arial, sans-serif' >d= 0.62 mm</text>
<text x="75.6" y="301.9" font-size="9.8" font-weight="normal" text-anchor="middle" fill="#4a88c8" font-family='"Liberation Sans", Arial, sans-serif' textLength="19.2" lengthAdjust="spacingAndGlyphs" >WoF</text>
<text x="76.25" y="315.2" font-size="10.5" font-weight="normal" text-anchor="middle" fill="#4a88c8" font-family='"Liberation Sans", Arial, sans-serif' textLength="25.1" lengthAdjust="spacingAndGlyphs" >1.735</text>
<text x="123.75" y="356.5" font-size="9.8" font-weight="normal" text-anchor="middle" fill="#e84444" font-family='"Liberation Sans", Arial, sans-serif' textLength="20" lengthAdjust="spacingAndGlyphs" >WoF</text>
<text x="122.85" y="368.4" font-size="11" font-weight="normal" text-anchor="middle" fill="#f06a6a" font-family='"Liberation Serif", "Times New Roman", serif' textLength="25.7" lengthAdjust="spacingAndGlyphs" >1. 746</text>
<text x="221.45" y="346.1" font-size="9.8" font-weight="normal" text-anchor="middle" fill="#333" font-family='"Liberation Sans", Arial, sans-serif' textLength="19.7" lengthAdjust="spacingAndGlyphs" >WoF</text>
<text x="222" y="357.8" font-size="11" font-weight="normal" text-anchor="middle" fill="#555" font-family='"Liberation Serif", "Times New Roman", serif' textLength="24.7" lengthAdjust="spacingAndGlyphs" >1. 974</text>
<text x="264" y="218.7" font-size="23" font-weight="bold" text-anchor="start" fill="#000" font-family='"Liberation Sans", Arial, sans-serif' >d</text>
<radialGradient id="sp3" cx="0.5" cy="0.5" r="0.5"><stop offset="0" stop-color="#1c1a18"/><stop offset="0.45" stop-color="#2c2a27" stop-opacity="0.95"/><stop offset="1" stop-color="#8a867f" stop-opacity="0"/></radialGradient>
<linearGradient id="ph3b" x1="0" y1="0" x2="1" y2="0.3"><stop offset="0" stop-color="#e6eaf2"/><stop offset="0.55" stop-color="#d0d6e4"/><stop offset="1" stop-color="#b2bcd2"/></linearGradient>
<linearGradient id="in2b" x1="0" y1="0" x2="1" y2="1"><stop offset="0" stop-color="#5e5a55"/><stop offset="1" stop-color="#48443f"/></linearGradient>
<rect x="320.9" y="266.3" width="43.3" height="35.6" fill="url(#ph1)"/>
<ellipse cx="341" cy="272" rx="15" ry="5" fill="#2a2a30" opacity="0.55" filter="url(#blur2)"/>
<path d="M329.5,297 C327,293 326,287 326.5,283 C327.5,272 334,268.4 341,268.4 C348,268.4 354.5,272 355.3,283 C355.6,288 354.5,293 352,297 Q341,298.5 329.5,297 Z" fill="#16161a" filter="url(#blur05)"/>
<path d="M331.5,294.2 C330,291 329.5,287 329.8,283.5 C330.5,276.5 335,274.1 341,274.1 C347,274.1 352,276.5 352.5,283.5 C352.7,287 352,291 350.5,294.2 Q341,295.5 331.5,294.2 Z" fill="#b2a998"/>
<path d="M335,292 L336,278 M340,293 L341,276 M345,292 L346,277 M349,290 L349.5,280" stroke="#c8c0b2" stroke-width="1" opacity="0.6"/>
<line x1="352.8" y1="298.6" x2="361.5" y2="298.6" stroke="#1a1a2a" stroke-width="1.3" />
<rect x="368.2" y="304" width="54" height="46.6" fill="url(#ph2)"/>
<ellipse cx="411" cy="328" rx="6" ry="12" fill="#283040" opacity="0.55" filter="url(#blur2)"/>
<path d="M378,340.5 C376,334 374.5,327 375,320 C376,311 384,306.3 394,306.3 C404,306.3 412.5,312 412.5,322 C412.5,330 410,336 406,340.5 Q392,341.5 378,340.5 Z" fill="#221f1c" filter="url(#blur05)"/>
<path d="M380.5,337.5 C379,332 378,326 378.5,320.5 C379.5,313 386,309.5 394,309.5 C402,309.5 409.5,314 409.5,322 C409.5,329 407.5,334 404.5,337.5 Q392,338.5 380.5,337.5 Z" fill="url(#in2b)"/>
<line x1="408.7" y1="346.2" x2="418.9" y2="346.2" stroke="#1a1a3a" stroke-width="1.3" />
<radialGradient id="in3b" gradientUnits="userSpaceOnUse" cx="484.5" cy="348.4" r="27"><stop offset="0" stop-color="#1e1c1a"/><stop offset="0.2" stop-color="#2e2c29"/><stop offset="0.34" stop-color="#6a6660"/><stop offset="0.5" stop-color="#8e8a84"/><stop offset="0.75" stop-color="#86827c"/><stop offset="0.92" stop-color="#6a665f"/><stop offset="1" stop-color="#4a4641"/></radialGradient>
<rect x="453.3" y="320" width="69.5" height="60.5" fill="url(#ph3b)"/>
<path d="M462.5,377.3 C461,365 459.5,352 459.5,345 C459.5,331 470,323.4 484,323.4 C498,323.4 508.75,332 508.75,345 C508.75,356 507,367 505,377.3 Z" fill="#1a1816" filter="url(#blur05)"/>
<path d="M465.5,374.3 C464.2,364 462.8,352 462.8,345.5 C462.8,334 472,327 484,327 C496,327 505.5,334 505.5,345.5 C505.5,355 504,365 502.5,374.3 Z" fill="url(#in3b)"/>
<line x1="510.3" y1="376.3" x2="519.7" y2="376.3" stroke="#1a1a3a" stroke-width="1.2" />
<polyline points="349.47,254.89 406.34,287.71 499.4,305.38" fill="none" stroke="#333" stroke-width="1.1" stroke-linejoin="round" />
<line x1="349.47" y1="248.16" x2="349.47" y2="259.94" stroke="#333" stroke-width="1" />
<line x1="346.97" y1="248.16" x2="351.97" y2="248.16" stroke="#333" stroke-width="1" />
<line x1="346.97" y1="259.94" x2="351.97" y2="259.94" stroke="#333" stroke-width="1" />
<rect x="346.17" y="251.59" width="6.6" height="6.6" fill="#111"/>
<line x1="406.34" y1="284.34" x2="406.34" y2="291.08" stroke="#333" stroke-width="1" />
<line x1="403.84" y1="284.34" x2="408.84" y2="284.34" stroke="#333" stroke-width="1" />
<line x1="403.84" y1="291.08" x2="408.84" y2="291.08" stroke="#333" stroke-width="1" />
<rect x="403.04" y="284.41" width="6.6" height="6.6" fill="#111"/>
<line x1="499.4" y1="298.65" x2="499.4" y2="318" stroke="#333" stroke-width="1" />
<line x1="496.9" y1="298.65" x2="501.9" y2="298.65" stroke="#333" stroke-width="1" />
<line x1="496.9" y1="318" x2="501.9" y2="318" stroke="#333" stroke-width="1" />
<rect x="496.1" y="302.08" width="6.6" height="6.6" fill="#111"/>
<polyline points="349.47,240.31 406.34,271.72 499.4,275.09" fill="none" stroke="#2f78c0" stroke-width="1.4" stroke-linejoin="round" />
<line x1="349.47" y1="235.26" x2="349.47" y2="244.79" stroke="#2f78c0" stroke-width="1" />
<line x1="346.97" y1="235.26" x2="351.97" y2="235.26" stroke="#2f78c0" stroke-width="1" />
<line x1="346.97" y1="244.79" x2="351.97" y2="244.79" stroke="#2f78c0" stroke-width="1" />
<path d="M349.47,236.11 L353.27,242.91 L345.67,242.91 Z" fill="#2f78c0"/>
<line x1="406.34" y1="268.36" x2="406.34" y2="279.58" stroke="#2f78c0" stroke-width="1" />
<line x1="403.84" y1="268.36" x2="408.84" y2="268.36" stroke="#2f78c0" stroke-width="1" />
<line x1="403.84" y1="279.58" x2="408.84" y2="279.58" stroke="#2f78c0" stroke-width="1" />
<path d="M406.34,267.52 L410.14,274.32 L402.54,274.32 Z" fill="#2f78c0"/>
<line x1="499.4" y1="259.94" x2="499.4" y2="283.5" stroke="#2f78c0" stroke-width="1" />
<line x1="496.9" y1="259.94" x2="501.9" y2="259.94" stroke="#2f78c0" stroke-width="1" />
<line x1="496.9" y1="283.5" x2="501.9" y2="283.5" stroke="#2f78c0" stroke-width="1" />
<path d="M499.4,270.89 L503.2,277.69 L495.6,277.69 Z" fill="#2f78c0"/>
<rect x="316.9" y="214.5" width="210.3" height="168.3" fill="none" stroke="#3a3a3a" stroke-width="1.5"/>
<line x1="313.4" y1="382.8" x2="316.9" y2="382.8" stroke="#3a3a3a" stroke-width="1.4" />
<text x="312.3" y="386.3" font-size="10.4" font-weight="bold" text-anchor="end" fill="#333" font-family='"Liberation Sans", Arial, sans-serif' >0</text>
<line x1="313.4" y1="361.76" x2="316.9" y2="361.76" stroke="#3a3a3a" stroke-width="1.4" />
<text x="312.3" y="365.26" font-size="10.4" font-weight="bold" text-anchor="end" fill="#333" font-family='"Liberation Sans", Arial, sans-serif' >25</text>
<line x1="313.4" y1="340.73" x2="316.9" y2="340.73" stroke="#3a3a3a" stroke-width="1.4" />
<text x="312.3" y="344.23" font-size="10.4" font-weight="bold" text-anchor="end" fill="#333" font-family='"Liberation Sans", Arial, sans-serif' >50</text>
<line x1="313.4" y1="319.69" x2="316.9" y2="319.69" stroke="#3a3a3a" stroke-width="1.4" />
<text x="312.3" y="323.19" font-size="10.4" font-weight="bold" text-anchor="end" fill="#333" font-family='"Liberation Sans", Arial, sans-serif' >75</text>
<line x1="313.4" y1="298.65" x2="316.9" y2="298.65" stroke="#3a3a3a" stroke-width="1.4" />
<text x="312.3" y="302.15" font-size="10.4" font-weight="bold" text-anchor="end" fill="#333" font-family='"Liberation Sans", Arial, sans-serif' >100</text>
<line x1="313.4" y1="277.61" x2="316.9" y2="277.61" stroke="#3a3a3a" stroke-width="1.4" />
<text x="312.3" y="281.11" font-size="10.4" font-weight="bold" text-anchor="end" fill="#333" font-family='"Liberation Sans", Arial, sans-serif' >125</text>
<line x1="313.4" y1="256.58" x2="316.9" y2="256.58" stroke="#3a3a3a" stroke-width="1.4" />
<text x="312.3" y="260.08" font-size="10.4" font-weight="bold" text-anchor="end" fill="#333" font-family='"Liberation Sans", Arial, sans-serif' >150</text>
<line x1="313.4" y1="235.54" x2="316.9" y2="235.54" stroke="#3a3a3a" stroke-width="1.4" />
<text x="312.3" y="239.04" font-size="10.4" font-weight="bold" text-anchor="end" fill="#333" font-family='"Liberation Sans", Arial, sans-serif' >175</text>
<line x1="313.4" y1="214.5" x2="316.9" y2="214.5" stroke="#3a3a3a" stroke-width="1.4" />
<text x="312.3" y="218" font-size="10.4" font-weight="bold" text-anchor="end" fill="#333" font-family='"Liberation Sans", Arial, sans-serif' >200</text>
<line x1="314.9" y1="372.28" x2="316.9" y2="372.28" stroke="#3a3a3a" stroke-width="1" />
<line x1="314.9" y1="351.24" x2="316.9" y2="351.24" stroke="#3a3a3a" stroke-width="1" />
<line x1="314.9" y1="330.21" x2="316.9" y2="330.21" stroke="#3a3a3a" stroke-width="1" />
<line x1="314.9" y1="309.17" x2="316.9" y2="309.17" stroke="#3a3a3a" stroke-width="1" />
<line x1="314.9" y1="288.13" x2="316.9" y2="288.13" stroke="#3a3a3a" stroke-width="1" />
<line x1="314.9" y1="267.09" x2="316.9" y2="267.09" stroke="#3a3a3a" stroke-width="1" />
<line x1="314.9" y1="246.06" x2="316.9" y2="246.06" stroke="#3a3a3a" stroke-width="1" />
<line x1="314.9" y1="225.02" x2="316.9" y2="225.02" stroke="#3a3a3a" stroke-width="1" />
<line x1="527.2" y1="382.8" x2="530.7" y2="382.8" stroke="#3a3a3a" stroke-width="1.4" />
<text x="532.4" y="386.3" font-size="10.4" font-weight="bold" text-anchor="start" fill="#333" font-family='"Liberation Sans", Arial, sans-serif' >0</text>
<line x1="527.2" y1="354.75" x2="530.7" y2="354.75" stroke="#3a3a3a" stroke-width="1.4" />
<text x="532.4" y="358.25" font-size="10.4" font-weight="bold" text-anchor="start" fill="#333" font-family='"Liberation Sans", Arial, sans-serif' >5</text>
<line x1="527.2" y1="326.7" x2="530.7" y2="326.7" stroke="#3a3a3a" stroke-width="1.4" />
<text x="532.4" y="330.2" font-size="10.4" font-weight="bold" text-anchor="start" fill="#333" font-family='"Liberation Sans", Arial, sans-serif' >10</text>
<line x1="527.2" y1="298.65" x2="530.7" y2="298.65" stroke="#3a3a3a" stroke-width="1.4" />
<text x="532.4" y="302.15" font-size="10.4" font-weight="bold" text-anchor="start" fill="#333" font-family='"Liberation Sans", Arial, sans-serif' >15</text>
<line x1="527.2" y1="270.6" x2="530.7" y2="270.6" stroke="#3a3a3a" stroke-width="1.4" />
<text x="532.4" y="274.1" font-size="10.4" font-weight="bold" text-anchor="start" fill="#333" font-family='"Liberation Sans", Arial, sans-serif' >20</text>
<line x1="527.2" y1="242.55" x2="530.7" y2="242.55" stroke="#3a3a3a" stroke-width="1.4" />
<text x="532.4" y="246.05" font-size="10.4" font-weight="bold" text-anchor="start" fill="#333" font-family='"Liberation Sans", Arial, sans-serif' >25</text>
<line x1="527.2" y1="214.5" x2="530.7" y2="214.5" stroke="#3a3a3a" stroke-width="1.4" />
<text x="532.4" y="218" font-size="10.4" font-weight="bold" text-anchor="start" fill="#333" font-family='"Liberation Sans", Arial, sans-serif' >30</text>
<line x1="527.2" y1="368.78" x2="529.2" y2="368.78" stroke="#3a3a3a" stroke-width="1" />
<line x1="527.2" y1="340.73" x2="529.2" y2="340.73" stroke="#3a3a3a" stroke-width="1" />
<line x1="527.2" y1="312.68" x2="529.2" y2="312.68" stroke="#3a3a3a" stroke-width="1" />
<line x1="527.2" y1="284.62" x2="529.2" y2="284.62" stroke="#3a3a3a" stroke-width="1" />
<line x1="527.2" y1="256.57" x2="529.2" y2="256.57" stroke="#3a3a3a" stroke-width="1" />
<line x1="527.2" y1="228.53" x2="529.2" y2="228.53" stroke="#3a3a3a" stroke-width="1" />
<line x1="344.3" y1="382.8" x2="344.3" y2="386.3" stroke="#3a3a3a" stroke-width="1.4" />
<text x="344.3" y="396" font-size="10.4" font-weight="bold" text-anchor="middle" fill="#333" font-family='"Liberation Sans", Arial, sans-serif' >0.6</text>
<line x1="396" y1="382.8" x2="396" y2="386.3" stroke="#3a3a3a" stroke-width="1.4" />
<text x="396" y="396" font-size="10.4" font-weight="bold" text-anchor="middle" fill="#333" font-family='"Liberation Sans", Arial, sans-serif' >0.8</text>
<line x1="447.7" y1="382.8" x2="447.7" y2="386.3" stroke="#3a3a3a" stroke-width="1.4" />
<text x="447.7" y="396" font-size="10.4" font-weight="bold" text-anchor="middle" fill="#333" font-family='"Liberation Sans", Arial, sans-serif' >1.0</text>
<line x1="499.4" y1="382.8" x2="499.4" y2="386.3" stroke="#3a3a3a" stroke-width="1.4" />
<text x="499.4" y="396" font-size="10.4" font-weight="bold" text-anchor="middle" fill="#333" font-family='"Liberation Sans", Arial, sans-serif' >1.2</text>
<line x1="318.45" y1="382.8" x2="318.45" y2="384.8" stroke="#3a3a3a" stroke-width="1" />
<line x1="370.15" y1="382.8" x2="370.15" y2="384.8" stroke="#3a3a3a" stroke-width="1" />
<line x1="421.85" y1="382.8" x2="421.85" y2="384.8" stroke="#3a3a3a" stroke-width="1" />
<line x1="473.55" y1="382.8" x2="473.55" y2="384.8" stroke="#3a3a3a" stroke-width="1" />
<text x="428.2" y="407.4" font-size="11.8" font-weight="bold" text-anchor="middle" fill="#222" font-family='"Liberation Sans", Arial, sans-serif' textLength="113.4" lengthAdjust="spacingAndGlyphs" >Nozzle diameter (mm)</text>
<text x="0" y="0" transform="translate(289.5,297.7) rotate(-90)" font-size="11.8" font-weight="bold" text-anchor="middle" fill="#222" font-family='"Liberation Sans", Arial, sans-serif' textLength="125.9" lengthAdjust="spacingAndGlyphs">Young's modulus (MPa)</text>
<text x="0" y="0" transform="translate(556.5,296.8) rotate(-90)" font-size="11.8" font-weight="bold" text-anchor="middle" fill="#222" font-family='"Liberation Sans", Arial, sans-serif' textLength="162.8" lengthAdjust="spacingAndGlyphs">Ultimate tensile strength (MPa)</text>
<line x1="397.6" y1="221.2" x2="419.4" y2="221.2" stroke="#333" stroke-width="1.4" />
<rect x="405.2" y="218" width="6.4" height="6.4" fill="#111"/>
<text x="421.8" y="224.6" font-size="9.6" font-weight="normal" text-anchor="start" fill="#333" font-family='"Liberation Sans", Arial, sans-serif' >Young's modulus</text>
<line x1="397.6" y1="233" x2="419.4" y2="233" stroke="#2f78c0" stroke-width="1.1" />
<path d="M408.5,229.8 L411.6,235.2 L405.4,235.2 Z" fill="#2f78c0"/>
<text x="421.8" y="236.4" font-size="9.6" font-weight="normal" text-anchor="start" fill="#333" font-family='"Liberation Sans", Arial, sans-serif' >Ultimate tensile strength</text>
<text x="569" y="218.8" font-size="23" font-weight="bold" text-anchor="start" fill="#000" font-family='"Liberation Sans", Arial, sans-serif' >e</text>
<g fill="none" stroke="#5a5a5a" stroke-width="0.95"><circle cx="596.5" cy="365.68" r="2.05"/><circle cx="598.22" cy="365.37" r="2.05"/><circle cx="599.94" cy="366.27" r="2.05"/><circle cx="601.66" cy="365.23" r="2.05"/><circle cx="603.38" cy="366.06" r="2.05"/><circle cx="605.1" cy="365.76" r="2.05"/><circle cx="606.82" cy="365.2" r="2.05"/><circle cx="608.54" cy="366.01" r="2.05"/><circle cx="610.26" cy="365.17" r="2.05"/><circle cx="611.98" cy="365.88" r="2.05"/><circle cx="613.7" cy="365.23" r="2.05"/><circle cx="615.42" cy="365.17" r="2.05"/><circle cx="617.14" cy="365.38" r="2.05"/><circle cx="618.86" cy="365.72" r="2.05"/><circle cx="620.58" cy="364.07" r="2.05"/><circle cx="622.3" cy="363.86" r="2.05"/><circle cx="624.02" cy="364.16" r="2.05"/><circle cx="625.74" cy="363.76" r="2.05"/><circle cx="627.46" cy="362.12" r="2.05"/><circle cx="629.18" cy="360.81" r="2.05"/><circle cx="630.9" cy="360.88" r="2.05"/><circle cx="632.62" cy="358.23" r="2.05"/><circle cx="634.34" cy="358.72" r="2.05"/><circle cx="636.06" cy="356.72" r="2.05"/><circle cx="637.78" cy="355.48" r="2.05"/><circle cx="639.5" cy="354.11" r="2.05"/><circle cx="641.22" cy="353.08" r="2.05"/><circle cx="642.94" cy="352.62" r="2.05"/><circle cx="644.66" cy="348.83" r="2.05"/><circle cx="646.38" cy="346.86" r="2.05"/><circle cx="648.1" cy="344.27" r="2.05"/><circle cx="649.82" cy="340.63" r="2.05"/><circle cx="651.54" cy="337.51" r="2.05"/><circle cx="653.26" cy="333.19" r="2.05"/><circle cx="654.98" cy="329.75" r="2.05"/><circle cx="656.7" cy="326.71" r="2.05"/><circle cx="658.42" cy="324.26" r="2.05"/><circle cx="660.14" cy="320.5" r="2.05"/><circle cx="661.86" cy="317.09" r="2.05"/><circle cx="663.58" cy="314.55" r="2.05"/><circle cx="665.3" cy="311.29" r="2.05"/><circle cx="667.02" cy="307.98" r="2.05"/><circle cx="668.74" cy="304.93" r="2.05"/><circle cx="670.46" cy="300.46" r="2.05"/><circle cx="672.18" cy="295.34" r="2.05"/><circle cx="673.9" cy="291.33" r="2.05"/><circle cx="675.62" cy="286.56" r="2.05"/><circle cx="677.34" cy="282.51" r="2.05"/><circle cx="679.06" cy="277.7" r="2.05"/><circle cx="680.78" cy="272.98" r="2.05"/><circle cx="682.5" cy="270.29" r="2.05"/><circle cx="684.22" cy="264.93" r="2.05"/><circle cx="685.94" cy="262.46" r="2.05"/><circle cx="687.66" cy="260.06" r="2.05"/><circle cx="689.38" cy="257.61" r="2.05"/><circle cx="691.1" cy="257.28" r="2.05"/><circle cx="692.82" cy="255.52" r="2.05"/><circle cx="694.54" cy="257.23" r="2.05"/><circle cx="696.26" cy="258.15" r="2.05"/><circle cx="697.98" cy="259.19" r="2.05"/><circle cx="699.7" cy="261.6" r="2.05"/><circle cx="701.42" cy="263.99" r="2.05"/><circle cx="703.14" cy="268.4" r="2.05"/><circle cx="704.86" cy="271.95" r="2.05"/><circle cx="706.58" cy="275.65" r="2.05"/><circle cx="708.3" cy="279.29" r="2.05"/><circle cx="710.02" cy="283.99" r="2.05"/><circle cx="711.74" cy="288.19" r="2.05"/><circle cx="713.46" cy="291.36" r="2.05"/><circle cx="715.18" cy="295.78" r="2.05"/><circle cx="716.9" cy="299.28" r="2.05"/><circle cx="718.62" cy="305.02" r="2.05"/><circle cx="720.34" cy="309.5" r="2.05"/><circle cx="722.06" cy="314.71" r="2.05"/><circle cx="723.78" cy="318.14" r="2.05"/><circle cx="725.5" cy="320.61" r="2.05"/><circle cx="727.22" cy="324.23" r="2.05"/><circle cx="728.94" cy="328.18" r="2.05"/><circle cx="730.66" cy="330.46" r="2.05"/><circle cx="732.38" cy="334.69" r="2.05"/><circle cx="734.1" cy="337.6" r="2.05"/><circle cx="735.82" cy="340.95" r="2.05"/><circle cx="737.54" cy="344.26" r="2.05"/><circle cx="739.26" cy="347.83" r="2.05"/><circle cx="740.98" cy="348.97" r="2.05"/><circle cx="742.7" cy="351.48" r="2.05"/><circle cx="744.42" cy="354.03" r="2.05"/><circle cx="746.14" cy="356.81" r="2.05"/><circle cx="747.86" cy="357.11" r="2.05"/><circle cx="749.58" cy="359.49" r="2.05"/><circle cx="751.3" cy="361.39" r="2.05"/><circle cx="753.02" cy="363.41" r="2.05"/><circle cx="754.74" cy="364.03" r="2.05"/><circle cx="756.46" cy="364.85" r="2.05"/><circle cx="758.18" cy="364.53" r="2.05"/><circle cx="759.9" cy="365.51" r="2.05"/><circle cx="761.62" cy="366.05" r="2.05"/><circle cx="763.34" cy="367" r="2.05"/><circle cx="765.06" cy="367.14" r="2.05"/><circle cx="766.78" cy="365.7" r="2.05"/><circle cx="768.5" cy="365.75" r="2.05"/><circle cx="770.22" cy="365.86" r="2.05"/><circle cx="771.94" cy="365.87" r="2.05"/><circle cx="773.66" cy="366.33" r="2.05"/><circle cx="775.38" cy="366.52" r="2.05"/><circle cx="777.1" cy="365.94" r="2.05"/><circle cx="778.82" cy="365.49" r="2.05"/><circle cx="780.54" cy="366.24" r="2.05"/><circle cx="782.26" cy="366.16" r="2.05"/><circle cx="783.98" cy="366.52" r="2.05"/><circle cx="785.7" cy="367.22" r="2.05"/><circle cx="787.42" cy="366.76" r="2.05"/><circle cx="789.14" cy="366.45" r="2.05"/><circle cx="790.86" cy="366.64" r="2.05"/><circle cx="792.58" cy="366.76" r="2.05"/><circle cx="794.3" cy="365.64" r="2.05"/><circle cx="796.02" cy="367.17" r="2.05"/><circle cx="797.74" cy="366.97" r="2.05"/><circle cx="799.46" cy="367.14" r="2.05"/><circle cx="801.18" cy="367.01" r="2.05"/><circle cx="802.9" cy="366.29" r="2.05"/><circle cx="804.62" cy="366.31" r="2.05"/></g>
<g fill="none" stroke="#f07070" stroke-width="1"><circle cx="597.3" cy="366.39" r="2.05"/><circle cx="599.02" cy="366.56" r="2.05"/><circle cx="600.74" cy="367.19" r="2.05"/><circle cx="602.46" cy="366.35" r="2.05"/><circle cx="604.18" cy="366.4" r="2.05"/><circle cx="605.9" cy="366.52" r="2.05"/><circle cx="607.62" cy="365.78" r="2.05"/><circle cx="609.34" cy="366.35" r="2.05"/><circle cx="611.06" cy="366.54" r="2.05"/><circle cx="612.78" cy="366.81" r="2.05"/><circle cx="614.5" cy="365.53" r="2.05"/><circle cx="616.22" cy="365.89" r="2.05"/><circle cx="617.94" cy="365.48" r="2.05"/><circle cx="619.66" cy="366.76" r="2.05"/><circle cx="621.38" cy="366.53" r="2.05"/><circle cx="623.1" cy="365.33" r="2.05"/><circle cx="624.82" cy="367" r="2.05"/><circle cx="626.54" cy="366.95" r="2.05"/><circle cx="628.26" cy="366.37" r="2.05"/><circle cx="629.98" cy="366.28" r="2.05"/><circle cx="631.7" cy="365.44" r="2.05"/><circle cx="633.42" cy="365.16" r="2.05"/><circle cx="635.14" cy="366.06" r="2.05"/><circle cx="636.86" cy="365.07" r="2.05"/><circle cx="638.58" cy="365.05" r="2.05"/><circle cx="640.3" cy="364.87" r="2.05"/><circle cx="642.02" cy="364.23" r="2.05"/><circle cx="643.74" cy="364.26" r="2.05"/><circle cx="645.46" cy="363.29" r="2.05"/><circle cx="647.18" cy="363.08" r="2.05"/><circle cx="648.9" cy="360.93" r="2.05"/><circle cx="650.62" cy="359.52" r="2.05"/><circle cx="652.34" cy="357.65" r="2.05"/><circle cx="654.06" cy="354.98" r="2.05"/><circle cx="655.78" cy="351.5" r="2.05"/><circle cx="657.5" cy="348.45" r="2.05"/><circle cx="659.22" cy="347.1" r="2.05"/><circle cx="660.94" cy="343.54" r="2.05"/><circle cx="662.66" cy="338.96" r="2.05"/><circle cx="664.38" cy="334.42" r="2.05"/><circle cx="666.1" cy="327.22" r="2.05"/><circle cx="667.82" cy="319.32" r="2.05"/><circle cx="669.54" cy="311.69" r="2.05"/><circle cx="671.26" cy="303.56" r="2.05"/><circle cx="672.98" cy="297.07" r="2.05"/><circle cx="674.7" cy="288.67" r="2.05"/><circle cx="676.42" cy="281.73" r="2.05"/><circle cx="678.14" cy="273.17" r="2.05"/><circle cx="679.86" cy="266.45" r="2.05"/><circle cx="681.58" cy="258.25" r="2.05"/><circle cx="683.3" cy="248.7" r="2.05"/><circle cx="685.02" cy="243.04" r="2.05"/><circle cx="686.74" cy="238.97" r="2.05"/><circle cx="688.46" cy="232.84" r="2.05"/><circle cx="690.18" cy="230.88" r="2.05"/><circle cx="691.9" cy="227.45" r="2.05"/><circle cx="693.62" cy="226.19" r="2.05"/><circle cx="695.34" cy="227.02" r="2.05"/><circle cx="697.06" cy="228.72" r="2.05"/><circle cx="698.78" cy="230.93" r="2.05"/><circle cx="700.5" cy="236.01" r="2.05"/><circle cx="702.22" cy="242.47" r="2.05"/><circle cx="703.94" cy="249.63" r="2.05"/><circle cx="705.66" cy="255.93" r="2.05"/><circle cx="707.38" cy="262.52" r="2.05"/><circle cx="709.1" cy="270.49" r="2.05"/><circle cx="710.82" cy="277.56" r="2.05"/><circle cx="712.54" cy="284.37" r="2.05"/><circle cx="714.26" cy="292.57" r="2.05"/><circle cx="715.98" cy="297.36" r="2.05"/><circle cx="717.7" cy="303.21" r="2.05"/><circle cx="719.42" cy="308.17" r="2.05"/><circle cx="721.14" cy="312.86" r="2.05"/><circle cx="722.86" cy="319" r="2.05"/><circle cx="724.58" cy="323.08" r="2.05"/><circle cx="726.3" cy="328.64" r="2.05"/><circle cx="728.02" cy="332.16" r="2.05"/><circle cx="729.74" cy="337.18" r="2.05"/><circle cx="731.46" cy="340.07" r="2.05"/><circle cx="733.18" cy="343.23" r="2.05"/><circle cx="734.9" cy="347.55" r="2.05"/><circle cx="736.62" cy="350.3" r="2.05"/><circle cx="738.34" cy="352.1" r="2.05"/><circle cx="740.06" cy="354.45" r="2.05"/><circle cx="741.78" cy="354.54" r="2.05"/><circle cx="743.5" cy="356.17" r="2.05"/><circle cx="745.22" cy="358.25" r="2.05"/><circle cx="746.94" cy="358.73" r="2.05"/><circle cx="748.66" cy="358.61" r="2.05"/><circle cx="750.38" cy="361" r="2.05"/><circle cx="752.1" cy="360.14" r="2.05"/><circle cx="753.82" cy="360.76" r="2.05"/><circle cx="755.54" cy="362.22" r="2.05"/><circle cx="757.26" cy="361.96" r="2.05"/><circle cx="758.98" cy="362.29" r="2.05"/><circle cx="760.7" cy="362.17" r="2.05"/><circle cx="762.42" cy="362.48" r="2.05"/><circle cx="764.14" cy="363.64" r="2.05"/><circle cx="765.86" cy="363.31" r="2.05"/><circle cx="767.58" cy="364.22" r="2.05"/><circle cx="769.3" cy="364.01" r="2.05"/><circle cx="771.02" cy="364.36" r="2.05"/><circle cx="772.74" cy="365.47" r="2.05"/><circle cx="774.46" cy="364.82" r="2.05"/><circle cx="776.18" cy="365.18" r="2.05"/><circle cx="777.9" cy="365.91" r="2.05"/><circle cx="779.62" cy="364.88" r="2.05"/><circle cx="781.34" cy="364.9" r="2.05"/><circle cx="783.06" cy="366.29" r="2.05"/><circle cx="784.78" cy="366.16" r="2.05"/><circle cx="786.5" cy="365.17" r="2.05"/><circle cx="788.22" cy="365.1" r="2.05"/><circle cx="789.94" cy="366.12" r="2.05"/><circle cx="791.66" cy="366.52" r="2.05"/><circle cx="793.38" cy="365.21" r="2.05"/><circle cx="795.1" cy="366.6" r="2.05"/><circle cx="796.82" cy="366.51" r="2.05"/><circle cx="798.54" cy="366.04" r="2.05"/><circle cx="800.26" cy="365.75" r="2.05"/><circle cx="801.98" cy="365.21" r="2.05"/><circle cx="803.7" cy="365.13" r="2.05"/></g>
<rect x="595.3" y="212.8" width="210.6" height="170.1" fill="none" stroke="#3a3a3a" stroke-width="1.5"/>
<line x1="612.48" y1="382.9" x2="612.48" y2="386.3" stroke="#3a3a3a" stroke-width="1.4" />
<text x="612.48" y="397.3" font-size="10.3" font-weight="bold" text-anchor="middle" fill="#333" font-family='"Liberation Sans", Arial, sans-serif' >-75</text>
<line x1="641.65" y1="382.9" x2="641.65" y2="386.3" stroke="#3a3a3a" stroke-width="1.4" />
<text x="641.65" y="397.3" font-size="10.3" font-weight="bold" text-anchor="middle" fill="#333" font-family='"Liberation Sans", Arial, sans-serif' >-50</text>
<line x1="670.83" y1="382.9" x2="670.83" y2="386.3" stroke="#3a3a3a" stroke-width="1.4" />
<text x="670.83" y="397.3" font-size="10.3" font-weight="bold" text-anchor="middle" fill="#333" font-family='"Liberation Sans", Arial, sans-serif' >-25</text>
<line x1="700" y1="382.9" x2="700" y2="386.3" stroke="#3a3a3a" stroke-width="1.4" />
<text x="700" y="397.3" font-size="10.3" font-weight="bold" text-anchor="middle" fill="#333" font-family='"Liberation Sans", Arial, sans-serif' >0</text>
<line x1="729.17" y1="382.9" x2="729.17" y2="386.3" stroke="#3a3a3a" stroke-width="1.4" />
<text x="729.17" y="397.3" font-size="10.3" font-weight="bold" text-anchor="middle" fill="#333" font-family='"Liberation Sans", Arial, sans-serif' >25</text>
<line x1="758.35" y1="382.9" x2="758.35" y2="386.3" stroke="#3a3a3a" stroke-width="1.4" />
<text x="758.35" y="397.3" font-size="10.3" font-weight="bold" text-anchor="middle" fill="#333" font-family='"Liberation Sans", Arial, sans-serif' >50</text>
<line x1="787.52" y1="382.9" x2="787.52" y2="386.3" stroke="#3a3a3a" stroke-width="1.4" />
<text x="787.52" y="397.3" font-size="10.3" font-weight="bold" text-anchor="middle" fill="#333" font-family='"Liberation Sans", Arial, sans-serif' >75</text>
<line x1="597.89" y1="382.9" x2="597.89" y2="384.9" stroke="#3a3a3a" stroke-width="1" />
<line x1="627.06" y1="382.9" x2="627.06" y2="384.9" stroke="#3a3a3a" stroke-width="1" />
<line x1="656.24" y1="382.9" x2="656.24" y2="384.9" stroke="#3a3a3a" stroke-width="1" />
<line x1="685.41" y1="382.9" x2="685.41" y2="384.9" stroke="#3a3a3a" stroke-width="1" />
<line x1="714.59" y1="382.9" x2="714.59" y2="384.9" stroke="#3a3a3a" stroke-width="1" />
<line x1="743.76" y1="382.9" x2="743.76" y2="384.9" stroke="#3a3a3a" stroke-width="1" />
<line x1="772.94" y1="382.9" x2="772.94" y2="384.9" stroke="#3a3a3a" stroke-width="1" />
<line x1="802.11" y1="382.9" x2="802.11" y2="384.9" stroke="#3a3a3a" stroke-width="1" />
<text x="700.8" y="408.6" font-size="11.8" font-weight="bold" text-anchor="middle" fill="#222" font-family='"Liberation Sans", Arial, sans-serif' textLength="137.5" lengthAdjust="spacingAndGlyphs">Azimuth angle, <tspan font-style="italic" font-weight="normal" font-size="13" fill="#111" font-family='"Liberation Serif", "Times New Roman", serif'>φ</tspan> (degree)</text>
<text x="0" y="0" transform="translate(587.5,293.7) rotate(-90)" font-size="11.8" font-weight="bold" text-anchor="middle" fill="#222" font-family='"Liberation Sans", Arial, sans-serif' textLength="76.5" lengthAdjust="spacingAndGlyphs">Intensity (a.u.)</text>
<text x="627.8" y="236.8" font-size="8.6" fill="#333" font-family='"Liberation Sans", Arial, sans-serif'><tspan font-style="italic">f</tspan></text>
<text x="630.2" y="239.2" font-size="6.6" font-weight="bold" text-anchor="start" fill="#333" font-family='"Liberation Sans", Arial, sans-serif' textLength="27" lengthAdjust="spacingAndGlyphs" >stretched</text>
<text x="657.5" y="236.8" font-size="8.6" font-weight="normal" text-anchor="start" fill="#333" font-family='"Liberation Sans", Arial, sans-serif' textLength="24.2" lengthAdjust="spacingAndGlyphs" >= 0.75</text>
<text x="598.9" y="311.8" font-size="8.6" fill="#333" font-family='"Liberation Sans", Arial, sans-serif'><tspan font-style="italic">f</tspan></text>
<text x="602" y="313.4" font-size="6.6" font-weight="bold" text-anchor="start" fill="#333" font-family='"Liberation Sans", Arial, sans-serif' textLength="32.8" lengthAdjust="spacingAndGlyphs" >unstretched</text>
<text x="635.2" y="311.8" font-size="8.6" font-weight="normal" text-anchor="start" fill="#333" font-family='"Liberation Sans", Arial, sans-serif' textLength="24.6" lengthAdjust="spacingAndGlyphs" >= 0.68</text>
<text x="5" y="442.9" font-size="23" font-weight="bold" text-anchor="start" fill="#000" font-family='"Liberation Sans", Arial, sans-serif' >f</text>
<linearGradient id="rodC" x1="0" y1="0" x2="1" y2="0"><stop offset="0" stop-color="#5fc4d2"/><stop offset="0.45" stop-color="#9ee6ee"/><stop offset="1" stop-color="#58b8c8"/></linearGradient>
<linearGradient id="rodT" x1="0" y1="0" x2="1" y2="0"><stop offset="0" stop-color="#3f8a9e"/><stop offset="0.45" stop-color="#6cb4c4"/><stop offset="1" stop-color="#3a7e94"/></linearGradient>
<linearGradient id="rodK" x1="0" y1="0" x2="1" y2="0"><stop offset="0" stop-color="#163c64"/><stop offset="0.45" stop-color="#2f5f8a"/><stop offset="1" stop-color="#143858"/></linearGradient>
<path d="M17.7,525 L26.9,515.9 L26.9,520 L40,520 L40,529.2 L26.9,529.2 L26.9,533.4 Z" fill="#c0c4ea"/>
<path d="M244.5,533.2 L235,523.8 L235,528.4 L222,528.4 L222,538 L235,538 L235,542.6 Z" fill="#b8bce6"/>
<path d="M43.7,487.8 Q140,506 220.7,497.5 L238.3,575.6 Q135,552 31,564.4 L29.7,539 L37.4,529.2 Z" fill="#cacdee"/>
<rect x="37.4" y="520" width="4" height="9.2" fill="#b4b8e0" opacity="0.8"/>
<path d="M42,497 Q140,513 222.5,505 L224,512 Q140,519 41,505 Z" fill="#c0c3ea" opacity="0.7"/>
<path d="M38,518 Q140,535 226,528 L228,534 Q140,541 37,525 Z" fill="#c0c3ea" opacity="0.6"/>
<path d="M34,540 Q140,556 231,551 L232.5,557 Q140,562 33,547 Z" fill="#c0c3ea" opacity="0.6"/>
<g transform="translate(57,504) rotate(-80)"><rect x="-1.6" y="-5" width="3.2" height="10" rx="1.6" fill="url(#rodC)" stroke="#3a7890" stroke-width="0.35"/></g>
<g transform="translate(62.5,505.25) rotate(-79)"><rect x="-1.6" y="-5" width="3.2" height="10" rx="1.6" fill="url(#rodC)" stroke="#3a7890" stroke-width="0.35"/></g>
<g transform="translate(68,506.3) rotate(-78)"><rect x="-1.6" y="-5" width="3.2" height="10" rx="1.6" fill="url(#rodK)" stroke="#3a7890" stroke-width="0.35"/></g>
<g transform="translate(73.5,507) rotate(-77)"><rect x="-1.6" y="-5" width="3.2" height="10" rx="1.6" fill="url(#rodC)" stroke="#3a7890" stroke-width="0.35"/></g>
<g transform="translate(79,507.3) rotate(-76)"><rect x="-1.6" y="-5" width="3.2" height="10" rx="1.6" fill="url(#rodC)" stroke="#3a7890" stroke-width="0.35"/></g>
<g transform="translate(84.5,507.25) rotate(-75)"><rect x="-1.6" y="-5" width="3.2" height="10" rx="1.6" fill="url(#rodC)" stroke="#3a7890" stroke-width="0.35"/></g>
<g transform="translate(90,507) rotate(-74)"><rect x="-1.6" y="-5" width="3.2" height="10" rx="1.6" fill="url(#rodC)" stroke="#3a7890" stroke-width="0.35"/></g>
<g transform="translate(94.4,507.5) rotate(48)"><rect x="-1.5" y="-7" width="3" height="14" rx="1.5" fill="url(#rodC)" stroke="#3a7890" stroke-width="0.35"/></g>
<g transform="translate(101.5,508) rotate(46.8)"><rect x="-1.5" y="-7" width="3" height="14" rx="1.5" fill="url(#rodC)" stroke="#3a7890" stroke-width="0.35"/></g>
<g transform="translate(109.2,508.5) rotate(45.6)"><rect x="-1.5" y="-7" width="3" height="14" rx="1.5" fill="url(#rodC)" stroke="#3a7890" stroke-width="0.35"/></g>
<g transform="translate(117.2,509) rotate(44.4)"><rect x="-1.5" y="-7" width="3" height="14" rx="1.5" fill="url(#rodT)" stroke="#3a7890" stroke-width="0.35"/></g>
<g transform="translate(124.6,509.5) rotate(43.2)"><rect x="-1.5" y="-7" width="3" height="14" rx="1.5" fill="url(#rodT)" stroke="#3a7890" stroke-width="0.35"/></g>
<g transform="translate(132.2,510) rotate(42)"><rect x="-1.5" y="-7" width="3" height="14" rx="1.5" fill="url(#rodK)" stroke="#3a7890" stroke-width="0.35"/></g>
<g transform="translate(139.8,511.5) rotate(60)"><rect x="-1.5" y="-5" width="3" height="10" rx="1.5" fill="url(#rodK)" stroke="#3a7890" stroke-width="0.35"/></g>
<g transform="translate(147.5,511.5) rotate(88)"><rect x="-1.5" y="-3" width="3" height="6" rx="1.5" fill="url(#rodK)" stroke="#3a7890" stroke-width="0.35"/></g>
<g transform="translate(154.5,511.5) rotate(-32)"><rect x="-1.5" y="-4.5" width="3" height="9" rx="1.5" fill="url(#rodT)" stroke="#3a7890" stroke-width="0.35"/></g>
<g transform="translate(161.6,512) rotate(-4)"><rect x="-1.45" y="-6.5" width="2.9" height="13" rx="1.45" fill="url(#rodC)" stroke="#3a7890" stroke-width="0.35"/></g>
<g transform="translate(168.6,512) rotate(-4)"><rect x="-1.45" y="-6.5" width="2.9" height="13" rx="1.45" fill="url(#rodC)" stroke="#3a7890" stroke-width="0.35"/></g>
<g transform="translate(176.3,512) rotate(-4)"><rect x="-1.45" y="-6.5" width="2.9" height="13" rx="1.45" fill="url(#rodC)" stroke="#3a7890" stroke-width="0.35"/></g>
<g transform="translate(183.3,512) rotate(-4)"><rect x="-1.45" y="-6.5" width="2.9" height="13" rx="1.45" fill="url(#rodC)" stroke="#3a7890" stroke-width="0.35"/></g>
<g transform="translate(191,512) rotate(-4)"><rect x="-1.45" y="-6.5" width="2.9" height="13" rx="1.45" fill="url(#rodC)" stroke="#3a7890" stroke-width="0.35"/></g>
<g transform="translate(198.7,512) rotate(-10)"><rect x="-1.45" y="-6.5" width="2.9" height="13" rx="1.45" fill="url(#rodC)" stroke="#3a7890" stroke-width="0.35"/></g>
<g transform="translate(205.7,512) rotate(-22)"><rect x="-1.45" y="-5.5" width="2.9" height="11" rx="1.45" fill="url(#rodK)" stroke="#3a7890" stroke-width="0.35"/></g>
<g transform="translate(44,522.5) rotate(-80)"><rect x="-1.6" y="-5" width="3.2" height="10" rx="1.6" fill="url(#rodC)" stroke="#3a7890" stroke-width="0.35"/></g>
<g transform="translate(50.5,524) rotate(-79)"><rect x="-1.6" y="-5" width="3.2" height="10" rx="1.6" fill="url(#rodC)" stroke="#3a7890" stroke-width="0.35"/></g>
<g transform="translate(57,525.3) rotate(-78)"><rect x="-1.6" y="-5" width="3.2" height="10" rx="1.6" fill="url(#rodK)" stroke="#3a7890" stroke-width="0.35"/></g>
<g transform="translate(63.5,526.25) rotate(-77)"><rect x="-1.6" y="-5" width="3.2" height="10" rx="1.6" fill="url(#rodC)" stroke="#3a7890" stroke-width="0.35"/></g>
<g transform="translate(70,526.8) rotate(-76)"><rect x="-1.6" y="-5" width="3.2" height="10" rx="1.6" fill="url(#rodC)" stroke="#3a7890" stroke-width="0.35"/></g>
<g transform="translate(76.5,527) rotate(-75)"><rect x="-1.6" y="-5" width="3.2" height="10" rx="1.6" fill="url(#rodC)" stroke="#3a7890" stroke-width="0.35"/></g>
<g transform="translate(83,527) rotate(-74)"><rect x="-1.6" y="-5" width="3.2" height="10" rx="1.6" fill="url(#rodC)" stroke="#3a7890" stroke-width="0.35"/></g>
<g transform="translate(89,528.5) rotate(48)"><rect x="-1.5" y="-7" width="3" height="14" rx="1.5" fill="url(#rodC)" stroke="#3a7890" stroke-width="0.35"/></g>
<g transform="translate(98.5,529) rotate(46.8)"><rect x="-1.5" y="-7" width="3" height="14" rx="1.5" fill="url(#rodC)" stroke="#3a7890" stroke-width="0.35"/></g>
<g transform="translate(107.9,529.5) rotate(45.6)"><rect x="-1.5" y="-7" width="3" height="14" rx="1.5" fill="url(#rodC)" stroke="#3a7890" stroke-width="0.35"/></g>
<g transform="translate(117.2,530) rotate(44.4)"><rect x="-1.5" y="-7" width="3" height="14" rx="1.5" fill="url(#rodT)" stroke="#3a7890" stroke-width="0.35"/></g>
<g transform="translate(126.6,530.5) rotate(43.2)"><rect x="-1.5" y="-7" width="3" height="14" rx="1.5" fill="url(#rodT)" stroke="#3a7890" stroke-width="0.35"/></g>
<g transform="translate(133.5,531) rotate(42)"><rect x="-1.5" y="-7" width="3" height="14" rx="1.5" fill="url(#rodK)" stroke="#3a7890" stroke-width="0.35"/></g>
<g transform="translate(141.2,532) rotate(60)"><rect x="-1.5" y="-5" width="3" height="10" rx="1.5" fill="url(#rodK)" stroke="#3a7890" stroke-width="0.35"/></g>
<g transform="translate(149.6,532) rotate(88)"><rect x="-1.5" y="-3" width="3" height="6" rx="1.5" fill="url(#rodK)" stroke="#3a7890" stroke-width="0.35"/></g>
<g transform="translate(158,532) rotate(-32)"><rect x="-1.5" y="-4.5" width="3" height="9" rx="1.5" fill="url(#rodT)" stroke="#3a7890" stroke-width="0.35"/></g>
<g transform="translate(167.2,532.5) rotate(-4)"><rect x="-1.45" y="-6.5" width="2.9" height="13" rx="1.45" fill="url(#rodC)" stroke="#3a7890" stroke-width="0.35"/></g>
<g transform="translate(175.5,532.5) rotate(-4)"><rect x="-1.45" y="-6.5" width="2.9" height="13" rx="1.45" fill="url(#rodC)" stroke="#3a7890" stroke-width="0.35"/></g>
<g transform="translate(184,532.5) rotate(-4)"><rect x="-1.45" y="-6.5" width="2.9" height="13" rx="1.45" fill="url(#rodC)" stroke="#3a7890" stroke-width="0.35"/></g>
<g transform="translate(192.5,532.5) rotate(-4)"><rect x="-1.45" y="-6.5" width="2.9" height="13" rx="1.45" fill="url(#rodC)" stroke="#3a7890" stroke-width="0.35"/></g>
<g transform="translate(201,532.5) rotate(-4)"><rect x="-1.45" y="-6.5" width="2.9" height="13" rx="1.45" fill="url(#rodC)" stroke="#3a7890" stroke-width="0.35"/></g>
<g transform="translate(209.8,532.5) rotate(-10)"><rect x="-1.45" y="-6.5" width="2.9" height="13" rx="1.45" fill="url(#rodC)" stroke="#3a7890" stroke-width="0.35"/></g>
<g transform="translate(218.4,532.5) rotate(-22)"><rect x="-1.45" y="-5.5" width="2.9" height="11" rx="1.45" fill="url(#rodK)" stroke="#3a7890" stroke-width="0.35"/></g>
<g transform="translate(40,543.5) rotate(-80)"><rect x="-1.6" y="-5" width="3.2" height="10" rx="1.6" fill="url(#rodC)" stroke="#3a7890" stroke-width="0.35"/></g>
<g transform="translate(46.67,544.83) rotate(-79)"><rect x="-1.6" y="-5" width="3.2" height="10" rx="1.6" fill="url(#rodC)" stroke="#3a7890" stroke-width="0.35"/></g>
<g transform="translate(53.33,545.97) rotate(-78)"><rect x="-1.6" y="-5" width="3.2" height="10" rx="1.6" fill="url(#rodK)" stroke="#3a7890" stroke-width="0.35"/></g>
<g transform="translate(60,546.75) rotate(-77)"><rect x="-1.6" y="-5" width="3.2" height="10" rx="1.6" fill="url(#rodC)" stroke="#3a7890" stroke-width="0.35"/></g>
<g transform="translate(66.67,547.13) rotate(-76)"><rect x="-1.6" y="-5" width="3.2" height="10" rx="1.6" fill="url(#rodC)" stroke="#3a7890" stroke-width="0.35"/></g>
<g transform="translate(73.33,547.17) rotate(-75)"><rect x="-1.6" y="-5" width="3.2" height="10" rx="1.6" fill="url(#rodC)" stroke="#3a7890" stroke-width="0.35"/></g>
<g transform="translate(80,547) rotate(-74)"><rect x="-1.6" y="-5" width="3.2" height="10" rx="1.6" fill="url(#rodC)" stroke="#3a7890" stroke-width="0.35"/></g>
<g transform="translate(83.7,550) rotate(48)"><rect x="-1.5" y="-7" width="3" height="14" rx="1.5" fill="url(#rodC)" stroke="#3a7890" stroke-width="0.35"/></g>
<g transform="translate(93.1,550.5) rotate(46.8)"><rect x="-1.5" y="-7" width="3" height="14" rx="1.5" fill="url(#rodC)" stroke="#3a7890" stroke-width="0.35"/></g>
<g transform="translate(102.5,551) rotate(45.6)"><rect x="-1.5" y="-7" width="3" height="14" rx="1.5" fill="url(#rodC)" stroke="#3a7890" stroke-width="0.35"/></g>
<g transform="translate(111.9,551.5) rotate(44.4)"><rect x="-1.5" y="-7" width="3" height="14" rx="1.5" fill="url(#rodT)" stroke="#3a7890" stroke-width="0.35"/></g>
<g transform="translate(121.3,552) rotate(43.2)"><rect x="-1.5" y="-7" width="3" height="14" rx="1.5" fill="url(#rodT)" stroke="#3a7890" stroke-width="0.35"/></g>
<g transform="translate(130.7,552.5) rotate(42)"><rect x="-1.5" y="-7" width="3" height="14" rx="1.5" fill="url(#rodK)" stroke="#3a7890" stroke-width="0.35"/></g>
<g transform="translate(141.2,553.5) rotate(60)"><rect x="-1.5" y="-5" width="3" height="10" rx="1.5" fill="url(#rodK)" stroke="#3a7890" stroke-width="0.35"/></g>
<g transform="translate(150.3,553.5) rotate(88)"><rect x="-1.5" y="-3" width="3" height="6" rx="1.5" fill="url(#rodK)" stroke="#3a7890" stroke-width="0.35"/></g>
<g transform="translate(158.7,553.5) rotate(-32)"><rect x="-1.5" y="-4.5" width="3" height="9" rx="1.5" fill="url(#rodT)" stroke="#3a7890" stroke-width="0.35"/></g>
<g transform="translate(167.5,554) rotate(-4)"><rect x="-1.45" y="-6.5" width="2.9" height="13" rx="1.45" fill="url(#rodC)" stroke="#3a7890" stroke-width="0.35"/></g>
<g transform="translate(176,554) rotate(-4)"><rect x="-1.45" y="-6.5" width="2.9" height="13" rx="1.45" fill="url(#rodC)" stroke="#3a7890" stroke-width="0.35"/></g>
<g transform="translate(185,554) rotate(-4)"><rect x="-1.45" y="-6.5" width="2.9" height="13" rx="1.45" fill="url(#rodC)" stroke="#3a7890" stroke-width="0.35"/></g>
<g transform="translate(193.5,554) rotate(-4)"><rect x="-1.45" y="-6.5" width="2.9" height="13" rx="1.45" fill="url(#rodC)" stroke="#3a7890" stroke-width="0.35"/></g>
<g transform="translate(202,554) rotate(-4)"><rect x="-1.45" y="-6.5" width="2.9" height="13" rx="1.45" fill="url(#rodC)" stroke="#3a7890" stroke-width="0.35"/></g>
<g transform="translate(210,554) rotate(-10)"><rect x="-1.45" y="-6.5" width="2.9" height="13" rx="1.45" fill="url(#rodC)" stroke="#3a7890" stroke-width="0.35"/></g>
<g transform="translate(221.7,554) rotate(-22)"><rect x="-1.45" y="-5.5" width="2.9" height="11" rx="1.45" fill="url(#rodK)" stroke="#3a7890" stroke-width="0.35"/></g>
<path d="M89,479 Q136,502 182,481" fill="none" stroke="#333" stroke-width="1.1"/>
<path d="M87.6,478.1 L95,479.2 L92,483.6 Z" fill="#333"/>
<path d="M183.5,480.5 L176.6,480.8 L179.3,485.4 Z" fill="#333"/>
<text x="127.8" y="588.8" font-size="13.8" font-weight="bold" text-anchor="middle" fill="#222" font-family='"Liberation Sans", Arial, sans-serif' textLength="71.6" lengthAdjust="spacingAndGlyphs" >Stretching</text>
<text x="235" y="442.7" font-size="23" font-weight="bold" text-anchor="start" fill="#000" font-family='"Liberation Sans", Arial, sans-serif' >g</text>
<polyline points="273.4,516.62 274.2,515.74 275,515.48 275.8,514.13 276.6,512.94 277.4,512.41 278.2,512.14 279,510.67 279.8,509.32 280.6,507.02 281.4,506.28 282.2,504.51 283,503.06 283.8,501.31 284.6,499.73 285.4,499.19 286.2,497.15 287,495.23 287.8,493.35 288.6,490.43 289.4,488.86 290.2,487.73 291,485.74 291.8,483.59 292.6,481.29 293.4,477.66 294.2,476.66 295,475.24 295.8,473.87 296.6,472.61 297.4,473.29 298.2,473.48 299,476.54 299.8,477.73 300.6,478.26 301.4,479.11 302.2,481.66 303,482.62 303.8,484.82 304.6,486.43 305.4,487.47 306.2,488.9 307,490.74 307.8,491.81 308.6,492.45 309.4,493.66 310.2,495.49 311,494.99 311.8,495.85 312.6,497.71 313.4,497.87 314.2,499.07 315,499.67 315.8,500.11 316.6,501.91 317.4,501.06 318.2,501.99 319,502.11 319.8,503.41 320.6,503.25 321.4,503.82 322.2,504.9 323,504.44 323.8,505.13 324.6,505.94 325.4,504.62 326.2,504.62 327,504.92 327.8,505.82 328.6,505.45 329.4,504.64 330.2,504.66 331,504.2 331.8,504.49 332.6,503.5 333.4,504.39 334.2,504.44 335,504.2 335.8,503.42 336.6,503.4 337.4,501.25 338.2,501.24 339,501.93 339.8,501.01 340.6,499.74 341.4,500.13 342.2,498.93 343,498.63 343.8,497 344.6,496.1 345.4,495.8 346.2,494.47 347,494.1 347.8,494.32 348.6,492.34 349.4,490.89 350.2,490.08 351,489.42 351.8,489.63 352.6,487.97 353.4,486.93 354.2,485.68 355,486.37 355.8,484.44 356.6,483.1 357.4,481.85 358.2,480.84 359,480.01 359.8,479.88 360.6,477.88 361.4,476.62 362.2,476.37 363,474.88 363.8,475.17 364.6,472.55 365.4,472.26 366.2,471.7 367,470.07 367.8,470.16 368.6,468.33 369.4,467.04 370.2,466.36 371,464.72 371.8,464.44 372.6,463.16 373.4,463.37 374.2,462.34 375,460.84 375.8,459.13 376.6,458.69 377.4,457.88 378.2,457.08 379,456.43 379.8,456.95 380.6,455.07 381.4,454.41 382.2,455.45 383,454.12 383.8,454.52 384.6,453.37 385.4,454.42 386.2,454.33 387,455.11 387.8,455.52 388.6,455.47 389.4,455.21 390.2,455.94 391,457.71 391.8,458.38 392.6,459.09 393.4,458.74 394.2,460.06 395,461.1 395.8,461.62 396.6,462.76 397.4,463.09 398.2,464.18 399,464.91 399.8,464.89 400.6,466.83 401.4,467.68 402.2,466.92 403,469.38 403.8,470.23 404.6,470.58 405.4,470.34 406.2,472.75 407,472.24 407.8,474.61 408.6,474.92 409.4,474.65 410.2,475.63 411,477.23 411.8,477.83 412.6,478.82 413.4,479.79 414.2,479.13 415,479.33 415.8,481.56 416.6,480.48 417.4,482.58 418.2,481.73 419,483.49 419.8,483.93 420.6,484.58 421.4,484.46 422.2,485.5 423,484.73 423.8,486.01 424.6,485.82 425.4,487.24 426.2,487.44 427,487.29 427.8,487.7 428.6,487.1 429.4,487.4 430.2,488.68 431,488.75 431.8,489.69 432.6,489.47 433.4,488.87 434.2,489.5 435,490.46 435.8,490.24 436.6,489.54 437.4,491.24 438.2,491.44 439,490.31 439.8,491.35 440.6,491.27 441.4,492.22 442.2,491.58 443,491.67 443.8,492.35 444.6,493.45 445.4,492.12 446.2,492.39 447,493.54 447.8,494.26 448.6,493.82 449.4,493.91 450.2,494.91 451,495 451.8,493.96 452.6,495.66 453.4,494.66 454.2,495.09 455,496.29 455.8,495.78 456.6,496.7 457.4,495.8 458.2,497.31 459,496.3 459.8,496.5 460.6,497.37 461.4,497.33 462.2,497.95 463,498.85 463.8,498.72 464.6,497.68 465.4,498.46 466.2,499.11 467,499.24 467.8,499.89 468.6,499.72 469.4,499.23 470.2,499.78 471,501.11 471.8,500.48 472.6,501.46 473.4,502.1 474.2,501.7 475,502.04 475.8,502.15 476.6,501.86 477.4,503.17 478.2,502.59 479,503.62 479.8,502.74 480.6,503.97 481.4,504.02 482.2,503.91 483,503.79 483.8,503.42 484.6,504.76 485.4,504.3 486.2,505.1 487,504.4 487.8,504.54 488.6,504.87 489.4,506.28 490.2,505.34 491,506.82 491.8,506.04 492.6,506.57 493.4,506.31 494.2,506.93 495,506.1 495.8,506.77 496.6,507.84" fill="none" stroke="#f06464" stroke-width="0.95" stroke-linejoin="round" />
<polyline points="273.4,588.12 274.2,588.29 275,588.44 275.8,588.65 276.6,587.92 277.4,587.37 278.2,584.64 279,584.22 279.8,583.64 280.6,581.51 281.4,580.24 282.2,577.02 283,575.85 283.8,573.66 284.6,572.49 285.4,570.92 286.2,568.22 287,566.85 287.8,565.21 288.6,564.62 289.4,562.67 290.2,560 291,559.68 291.8,557.19 292.6,556.57 293.4,554.2 294.2,552.74 295,553.3 295.8,551.36 296.6,550.87 297.4,551.97 298.2,551.72 299,550.91 299.8,552.73 300.6,552.99 301.4,554.37 302.2,554.28 303,556.51 303.8,557.08 304.6,558.68 305.4,559.73 306.2,559.88 307,561.24 307.8,562.13 308.6,563.31 309.4,564.34 310.2,565.86 311,567.4 311.8,567.21 312.6,569.04 313.4,569 314.2,569.52 315,570.98 315.8,570.9 316.6,571.11 317.4,571.89 318.2,572.75 319,572.02 319.8,574.08 320.6,572.74 321.4,574.4 322.2,574.88 323,573.67 323.8,575.3 324.6,574.75 325.4,575.3 326.2,574.4 327,574.56 327.8,574.86 328.6,576.27 329.4,574.9 330.2,575.87 331,576.1 331.8,576.02 332.6,574.8 333.4,574.64 334.2,574.74 335,574.95 335.8,573.47 336.6,574.32 337.4,574.06 338.2,573.79 339,571.9 339.8,573.09 340.6,571.06 341.4,570.98 342.2,570.88 343,570.78 343.8,569.04 344.6,569.35 345.4,567.89 346.2,566.65 347,565.82 347.8,564.7 348.6,563.64 349.4,562.87 350.2,562.94 351,562.6 351.8,560.2 352.6,559.11 353.4,559.94 354.2,558.28 355,557.23 355.8,556.13 356.6,555.97 357.4,555.59 358.2,554.12 359,553.26 359.8,551.8 360.6,552.55 361.4,550.16 362.2,550.19 363,550.01 363.8,547.94 364.6,548.22 365.4,547.81 366.2,546.43 367,545.92 367.8,543.89 368.6,543.68 369.4,542.37 370.2,542.8 371,540.97 371.8,540.39 372.6,540.49 373.4,539.33 374.2,538.66 375,536.82 375.8,535.99 376.6,535.54 377.4,534.22 378.2,533.04 379,532.43 379.8,531.18 380.6,530.85 381.4,531.25 382.2,530.55 383,529.36 383.8,528.6 384.6,527.39 385.4,526.16 386.2,525.86 387,526.27 387.8,526.05 388.6,524.88 389.4,525.5 390.2,525.44 391,525.35 391.8,525.44 392.6,525.86 393.4,525.49 394.2,526.56 395,526.37 395.8,527.44 396.6,528.79 397.4,529.62 398.2,530.03 399,531.84 399.8,532.02 400.6,532.66 401.4,532.45 402.2,534.28 403,534.66 403.8,536.35 404.6,536.95 405.4,538.57 406.2,539.27 407,540.54 407.8,540.74 408.6,542.28 409.4,543.44 410.2,544.57 411,544.65 411.8,546.45 412.6,547.37 413.4,547.9 414.2,549.27 415,550.1 415.8,550.16 416.6,551.04 417.4,551.24 418.2,553.29 419,554.31 419.8,554.31 420.6,555.52 421.4,556.37 422.2,557.18 423,556.95 423.8,558.8 424.6,559.17 425.4,560.03 426.2,560.28 427,561.28 427.8,561.98 428.6,562.15 429.4,562.71 430.2,561.86 431,562.5 431.8,563.39 432.6,564.14 433.4,563.74 434.2,564.94 435,565.2 435.8,564.49 436.6,565.6 437.4,565.5 438.2,565.51 439,565.98 439.8,566.62 440.6,566.69 441.4,567.01 442.2,567.02 443,568.09 443.8,568.22 444.6,568.92 445.4,569.15 446.2,568.78 447,570.25 447.8,568.88 448.6,569.86 449.4,569.88 450.2,570.35 451,570.04 451.8,571.55 452.6,570.93 453.4,570.52 454.2,571.75 455,570.99 455.8,571.98 456.6,571.78 457.4,572.38 458.2,573.22 459,573.12 459.8,572.55 460.6,573.41 461.4,573.25 462.2,572.9 463,572.64 463.8,573.6 464.6,573.68 465.4,574.54 466.2,574.7 467,574.21 467.8,573.89 468.6,575.03 469.4,573.58 470.2,573.93 471,574.89 471.8,575.11 472.6,574.4 473.4,575.42 474.2,576.03 475,575.25 475.8,575.5 476.6,575.28 477.4,575.54 478.2,576.92 479,576 479.8,577.19 480.6,577.26 481.4,576.83 482.2,576.37 483,577.81 483.8,577.08 484.6,577.08 485.4,577.04 486.2,578.38 487,577.62 487.8,577.38 488.6,577.85 489.4,577.33 490.2,578.35 491,578.14 491.8,577.97 492.6,578.96 493.4,579.13 494.2,577.76 495,578.78 495.8,578.39 496.6,579.65" fill="none" stroke="#505050" stroke-width="0.95" stroke-linejoin="round" />
<line x1="297.5" y1="471.1" x2="301.1" y2="555.6" stroke="#222" stroke-width="0.9" />
<line x1="384.9" y1="447.7" x2="391" y2="535.8" stroke="#222" stroke-width="0.9" />
<rect x="272.7" y="437.1" width="225.1" height="165.4" fill="none" stroke="#3a3a3a" stroke-width="1.5"/>
<line x1="273.1" y1="602.5" x2="273.1" y2="606" stroke="#3a3a3a" stroke-width="1.4" />
<text x="273.1" y="616.7" font-size="10.3" font-weight="bold" text-anchor="middle" fill="#333" font-family='"Liberation Sans", Arial, sans-serif' >5</text>
<line x1="310.55" y1="602.5" x2="310.55" y2="606" stroke="#3a3a3a" stroke-width="1.4" />
<text x="310.55" y="616.7" font-size="10.3" font-weight="bold" text-anchor="middle" fill="#333" font-family='"Liberation Sans", Arial, sans-serif' >10</text>
<line x1="348" y1="602.5" x2="348" y2="606" stroke="#3a3a3a" stroke-width="1.4" />
<text x="348" y="616.7" font-size="10.3" font-weight="bold" text-anchor="middle" fill="#333" font-family='"Liberation Sans", Arial, sans-serif' >15</text>
<line x1="385.45" y1="602.5" x2="385.45" y2="606" stroke="#3a3a3a" stroke-width="1.4" />
<text x="385.45" y="616.7" font-size="10.3" font-weight="bold" text-anchor="middle" fill="#333" font-family='"Liberation Sans", Arial, sans-serif' >20</text>
<line x1="422.9" y1="602.5" x2="422.9" y2="606" stroke="#3a3a3a" stroke-width="1.4" />
<text x="422.9" y="616.7" font-size="10.3" font-weight="bold" text-anchor="middle" fill="#333" font-family='"Liberation Sans", Arial, sans-serif' >25</text>
<line x1="460.35" y1="602.5" x2="460.35" y2="606" stroke="#3a3a3a" stroke-width="1.4" />
<text x="460.35" y="616.7" font-size="10.3" font-weight="bold" text-anchor="middle" fill="#333" font-family='"Liberation Sans", Arial, sans-serif' >30</text>
<line x1="497.8" y1="602.5" x2="497.8" y2="606" stroke="#3a3a3a" stroke-width="1.4" />
<text x="497.8" y="616.7" font-size="10.3" font-weight="bold" text-anchor="middle" fill="#333" font-family='"Liberation Sans", Arial, sans-serif' >35</text>
<line x1="291.83" y1="602.5" x2="291.83" y2="604.5" stroke="#3a3a3a" stroke-width="1" />
<line x1="329.28" y1="602.5" x2="329.28" y2="604.5" stroke="#3a3a3a" stroke-width="1" />
<line x1="366.73" y1="602.5" x2="366.73" y2="604.5" stroke="#3a3a3a" stroke-width="1" />
<line x1="404.18" y1="602.5" x2="404.18" y2="604.5" stroke="#3a3a3a" stroke-width="1" />
<line x1="441.62" y1="602.5" x2="441.62" y2="604.5" stroke="#3a3a3a" stroke-width="1" />
<line x1="479.08" y1="602.5" x2="479.08" y2="604.5" stroke="#3a3a3a" stroke-width="1" />
<text x="386.8" y="631.3" font-size="11.8" font-weight="bold" text-anchor="middle" fill="#222" font-family='"Liberation Sans", Arial, sans-serif' textLength="84.3" lengthAdjust="spacingAndGlyphs" >2-Theta (degree)</text>
<text x="0" y="0" transform="translate(262.6,520) rotate(-90)" font-size="11.8" font-weight="bold" text-anchor="middle" fill="#222" font-family='"Liberation Sans", Arial, sans-serif' textLength="73.4" lengthAdjust="spacingAndGlyphs">Intensity (a.u.)</text>
<text x="280.9" y="459.8" font-size="10.3" font-weight="bold" text-anchor="start" fill="#222" font-family='"Liberation Sans", Arial, sans-serif' >d</text>
<text x="287.2" y="462.7" font-size="7.6" font-weight="bold" text-anchor="start" fill="#222" font-family='"Liberation Sans", Arial, sans-serif' textLength="25.7" lengthAdjust="spacingAndGlyphs" >spacing</text>
<text x="313.4" y="459.8" font-size="10.3" font-weight="bold" text-anchor="start" fill="#222" font-family='"Liberation Sans", Arial, sans-serif' textLength="29.9" lengthAdjust="spacingAndGlyphs" >=10.58</text>
<text x="391.1" y="452.8" font-size="10.3" font-weight="bold" text-anchor="start" fill="#222" font-family='"Liberation Sans", Arial, sans-serif' >d</text>
<text x="397.4" y="455.7" font-size="7.6" font-weight="bold" text-anchor="start" fill="#222" font-family='"Liberation Sans", Arial, sans-serif' textLength="25.7" lengthAdjust="spacingAndGlyphs" >spacing</text>
<text x="423.6" y="452.8" font-size="10.3" font-weight="bold" text-anchor="start" fill="#222" font-family='"Liberation Sans", Arial, sans-serif' textLength="25" lengthAdjust="spacingAndGlyphs" >=4.46</text>
<text x="403.8" y="531" font-size="10.3" font-weight="bold" text-anchor="start" fill="#222" font-family='"Liberation Sans", Arial, sans-serif' >d</text>
<text x="410.1" y="533.9" font-size="7.6" font-weight="bold" text-anchor="start" fill="#222" font-family='"Liberation Sans", Arial, sans-serif' textLength="25.7" lengthAdjust="spacingAndGlyphs" >spacing</text>
<text x="436.3" y="531" font-size="10.3" font-weight="bold" text-anchor="start" fill="#222" font-family='"Liberation Sans", Arial, sans-serif' textLength="24.6" lengthAdjust="spacingAndGlyphs" >=4.31</text>
<text x="303.5" y="549" font-size="10.3" font-weight="bold" text-anchor="start" fill="#222" font-family='"Liberation Sans", Arial, sans-serif' >d</text>
<text x="309.8" y="551.9" font-size="7.6" font-weight="bold" text-anchor="start" fill="#222" font-family='"Liberation Sans", Arial, sans-serif' textLength="25.7" lengthAdjust="spacingAndGlyphs" >spacing</text>
<text x="336" y="549" font-size="10.3" font-weight="bold" text-anchor="start" fill="#222" font-family='"Liberation Sans", Arial, sans-serif' textLength="31.1" lengthAdjust="spacingAndGlyphs" >=10.15</text>
<text x="495.7" y="499.7" font-size="10.8" font-weight="bold" text-anchor="end" fill="#333" font-family='"Liberation Sans", Arial, sans-serif' textLength="46" lengthAdjust="spacingAndGlyphs" >Stretched</text>
<text x="495.7" y="592.2" font-size="10.8" font-weight="bold" text-anchor="end" fill="#333" font-family='"Liberation Sans", Arial, sans-serif' textLength="59.1" lengthAdjust="spacingAndGlyphs" >Unstretched</text>
<text x="508" y="443.2" font-size="23" font-weight="bold" text-anchor="start" fill="#000" font-family='"Liberation Sans", Arial, sans-serif' >h</text>
<rect x="580.4" y="562.7" width="31.8" height="54.5" fill="url(#barGray)"/>
<rect x="612.2" y="561.5" width="32.9" height="55.7" fill="url(#barBlue)"/>
<rect x="688.3" y="475.6" width="32.2" height="141.6" fill="url(#barGray)"/>
<rect x="720.5" y="461.9" width="31.8" height="155.3" fill="url(#barBlue)"/>
<line x1="596" y1="556.3" x2="596" y2="572" stroke="#222" stroke-width="1" />
<line x1="593.5" y1="556.3" x2="598.5" y2="556.3" stroke="#222" stroke-width="1" />
<line x1="593.5" y1="572" x2="598.5" y2="572" stroke="#222" stroke-width="1" />
<line x1="628.8" y1="553.2" x2="628.8" y2="570.8" stroke="#222" stroke-width="1" />
<line x1="626.3" y1="553.2" x2="631.3" y2="553.2" stroke="#222" stroke-width="1" />
<line x1="626.3" y1="570.8" x2="631.3" y2="570.8" stroke="#222" stroke-width="1" />
<line x1="703.7" y1="456" x2="703.7" y2="492" stroke="#222" stroke-width="1" />
<line x1="701.2" y1="456" x2="706.2" y2="456" stroke="#222" stroke-width="1" />
<line x1="701.2" y1="492" x2="706.2" y2="492" stroke="#222" stroke-width="1" />
<line x1="736.1" y1="458.8" x2="736.1" y2="465.8" stroke="#222" stroke-width="1" />
<line x1="733.6" y1="458.8" x2="738.6" y2="458.8" stroke="#222" stroke-width="1" />
<line x1="733.6" y1="465.8" x2="738.6" y2="465.8" stroke="#222" stroke-width="1" />
<line x1="558.2" y1="436.6" x2="773.6" y2="436.6" stroke="#3a3a3a" stroke-width="1.5" />
<line x1="558.2" y1="436.6" x2="558.2" y2="617.2" stroke="#3a3a3a" stroke-width="1.5" />
<line x1="558.2" y1="617.2" x2="773.6" y2="617.2" stroke="#3a3a3a" stroke-width="1.5" />
<line x1="773.6" y1="436.6" x2="773.6" y2="617.2" stroke="#2020e8" stroke-width="1.5" />
<line x1="554.7" y1="617.2" x2="558.2" y2="617.2" stroke="#3a3a3a" stroke-width="1.4" />
<text x="552" y="620.7" font-size="10.8" font-weight="bold" text-anchor="end" fill="#333" font-family='"Liberation Sans", Arial, sans-serif' >0</text>
<line x1="554.7" y1="597.13" x2="558.2" y2="597.13" stroke="#3a3a3a" stroke-width="1.4" />
<text x="552" y="600.63" font-size="10.8" font-weight="bold" text-anchor="end" fill="#333" font-family='"Liberation Sans", Arial, sans-serif' >50</text>
<line x1="554.7" y1="577.07" x2="558.2" y2="577.07" stroke="#3a3a3a" stroke-width="1.4" />
<text x="552" y="580.57" font-size="10.8" font-weight="bold" text-anchor="end" fill="#333" font-family='"Liberation Sans", Arial, sans-serif' >100</text>
<line x1="554.7" y1="557" x2="558.2" y2="557" stroke="#3a3a3a" stroke-width="1.4" />
<text x="552" y="560.5" font-size="10.8" font-weight="bold" text-anchor="end" fill="#333" font-family='"Liberation Sans", Arial, sans-serif' >150</text>
<line x1="554.7" y1="536.93" x2="558.2" y2="536.93" stroke="#3a3a3a" stroke-width="1.4" />
<text x="552" y="540.43" font-size="10.8" font-weight="bold" text-anchor="end" fill="#333" font-family='"Liberation Sans", Arial, sans-serif' >200</text>
<line x1="554.7" y1="516.87" x2="558.2" y2="516.87" stroke="#3a3a3a" stroke-width="1.4" />
<text x="552" y="520.37" font-size="10.8" font-weight="bold" text-anchor="end" fill="#333" font-family='"Liberation Sans", Arial, sans-serif' >250</text>
<line x1="554.7" y1="496.8" x2="558.2" y2="496.8" stroke="#3a3a3a" stroke-width="1.4" />
<text x="552" y="500.3" font-size="10.8" font-weight="bold" text-anchor="end" fill="#333" font-family='"Liberation Sans", Arial, sans-serif' >300</text>
<line x1="554.7" y1="476.73" x2="558.2" y2="476.73" stroke="#3a3a3a" stroke-width="1.4" />
<text x="552" y="480.23" font-size="10.8" font-weight="bold" text-anchor="end" fill="#333" font-family='"Liberation Sans", Arial, sans-serif' >350</text>
<line x1="554.7" y1="456.67" x2="558.2" y2="456.67" stroke="#3a3a3a" stroke-width="1.4" />
<text x="552" y="460.17" font-size="10.8" font-weight="bold" text-anchor="end" fill="#333" font-family='"Liberation Sans", Arial, sans-serif' >400</text>
<line x1="554.7" y1="436.6" x2="558.2" y2="436.6" stroke="#3a3a3a" stroke-width="1.4" />
<text x="552" y="440.1" font-size="10.8" font-weight="bold" text-anchor="end" fill="#333" font-family='"Liberation Sans", Arial, sans-serif' >450</text>
<line x1="556.2" y1="607.17" x2="558.2" y2="607.17" stroke="#3a3a3a" stroke-width="1" />
<line x1="556.2" y1="587.1" x2="558.2" y2="587.1" stroke="#3a3a3a" stroke-width="1" />
<line x1="556.2" y1="567.03" x2="558.2" y2="567.03" stroke="#3a3a3a" stroke-width="1" />
<line x1="556.2" y1="546.97" x2="558.2" y2="546.97" stroke="#3a3a3a" stroke-width="1" />
<line x1="556.2" y1="526.9" x2="558.2" y2="526.9" stroke="#3a3a3a" stroke-width="1" />
<line x1="556.2" y1="506.83" x2="558.2" y2="506.83" stroke="#3a3a3a" stroke-width="1" />
<line x1="556.2" y1="486.77" x2="558.2" y2="486.77" stroke="#3a3a3a" stroke-width="1" />
<line x1="556.2" y1="466.7" x2="558.2" y2="466.7" stroke="#3a3a3a" stroke-width="1" />
<line x1="556.2" y1="446.63" x2="558.2" y2="446.63" stroke="#3a3a3a" stroke-width="1" />
<line x1="773.6" y1="617.2" x2="777.1" y2="617.2" stroke="#2020e8" stroke-width="1.2" />
<text x="777.8" y="620.7" font-size="10.8" font-weight="bold" text-anchor="start" fill="#2020e8" font-family='"Liberation Sans", Arial, sans-serif' >0</text>
<line x1="773.6" y1="584.15" x2="777.1" y2="584.15" stroke="#2020e8" stroke-width="1.2" />
<text x="777.8" y="587.65" font-size="10.8" font-weight="bold" text-anchor="start" fill="#2020e8" font-family='"Liberation Sans", Arial, sans-serif' >10</text>
<line x1="773.6" y1="551.1" x2="777.1" y2="551.1" stroke="#2020e8" stroke-width="1.2" />
<text x="777.8" y="554.6" font-size="10.8" font-weight="bold" text-anchor="start" fill="#2020e8" font-family='"Liberation Sans", Arial, sans-serif' >20</text>
<line x1="773.6" y1="518.05" x2="777.1" y2="518.05" stroke="#2020e8" stroke-width="1.2" />
<text x="777.8" y="521.55" font-size="10.8" font-weight="bold" text-anchor="start" fill="#2020e8" font-family='"Liberation Sans", Arial, sans-serif' >30</text>
<line x1="773.6" y1="485" x2="777.1" y2="485" stroke="#2020e8" stroke-width="1.2" />
<text x="777.8" y="488.5" font-size="10.8" font-weight="bold" text-anchor="start" fill="#2020e8" font-family='"Liberation Sans", Arial, sans-serif' >40</text>
<line x1="773.6" y1="451.95" x2="777.1" y2="451.95" stroke="#2020e8" stroke-width="1.2" />
<text x="777.8" y="455.45" font-size="10.8" font-weight="bold" text-anchor="start" fill="#2020e8" font-family='"Liberation Sans", Arial, sans-serif' >50</text>
<line x1="773.6" y1="610.59" x2="775.6" y2="610.59" stroke="#2020e8" stroke-width="1" />
<line x1="773.6" y1="603.98" x2="775.6" y2="603.98" stroke="#2020e8" stroke-width="1" />
<line x1="773.6" y1="597.37" x2="775.6" y2="597.37" stroke="#2020e8" stroke-width="1" />
<line x1="773.6" y1="590.76" x2="775.6" y2="590.76" stroke="#2020e8" stroke-width="1" />
<line x1="773.6" y1="577.54" x2="775.6" y2="577.54" stroke="#2020e8" stroke-width="1" />
<line x1="773.6" y1="570.93" x2="775.6" y2="570.93" stroke="#2020e8" stroke-width="1" />
<line x1="773.6" y1="564.32" x2="775.6" y2="564.32" stroke="#2020e8" stroke-width="1" />
<line x1="773.6" y1="557.71" x2="775.6" y2="557.71" stroke="#2020e8" stroke-width="1" />
<line x1="773.6" y1="544.49" x2="775.6" y2="544.49" stroke="#2020e8" stroke-width="1" />
<line x1="773.6" y1="537.88" x2="775.6" y2="537.88" stroke="#2020e8" stroke-width="1" />
<line x1="773.6" y1="531.27" x2="775.6" y2="531.27" stroke="#2020e8" stroke-width="1" />
<line x1="773.6" y1="524.66" x2="775.6" y2="524.66" stroke="#2020e8" stroke-width="1" />
<line x1="773.6" y1="511.44" x2="775.6" y2="511.44" stroke="#2020e8" stroke-width="1" />
<line x1="773.6" y1="504.83" x2="775.6" y2="504.83" stroke="#2020e8" stroke-width="1" />
<line x1="773.6" y1="498.22" x2="775.6" y2="498.22" stroke="#2020e8" stroke-width="1" />
<line x1="773.6" y1="491.61" x2="775.6" y2="491.61" stroke="#2020e8" stroke-width="1" />
<line x1="773.6" y1="478.39" x2="775.6" y2="478.39" stroke="#2020e8" stroke-width="1" />
<line x1="773.6" y1="471.78" x2="775.6" y2="471.78" stroke="#2020e8" stroke-width="1" />
<line x1="773.6" y1="465.17" x2="775.6" y2="465.17" stroke="#2020e8" stroke-width="1" />
<line x1="773.6" y1="458.56" x2="775.6" y2="458.56" stroke="#2020e8" stroke-width="1" />
<line x1="773.6" y1="445.34" x2="775.6" y2="445.34" stroke="#2020e8" stroke-width="1" />
<line x1="773.6" y1="438.73" x2="775.6" y2="438.73" stroke="#2020e8" stroke-width="1" />
<line x1="612.3" y1="617.2" x2="612.3" y2="613.7" stroke="#3a3a3a" stroke-width="1.4" />
<line x1="720.2" y1="617.2" x2="720.2" y2="613.7" stroke="#3a3a3a" stroke-width="1.4" />
<text x="612.7" y="630.3" font-size="11" font-weight="bold" text-anchor="middle" fill="#222" font-family='"Liberation Sans", Arial, sans-serif' textLength="65.2" lengthAdjust="spacingAndGlyphs" >Unstretched</text>
<text x="719.9" y="630.3" font-size="11" font-weight="bold" text-anchor="middle" fill="#222" font-family='"Liberation Sans", Arial, sans-serif' textLength="50.4" lengthAdjust="spacingAndGlyphs" >Stretched</text>
<text x="0" y="0" transform="translate(527.3,526.1) rotate(-90)" font-size="12.4" font-weight="bold" text-anchor="middle" fill="#222" font-family='"Liberation Sans", Arial, sans-serif' textLength="139" lengthAdjust="spacingAndGlyphs">Young's modulus (MPa)</text>
<text x="0" y="0" transform="translate(805.3,525.3) rotate(-90)" font-size="12.4" font-weight="bold" text-anchor="middle" fill="#2020e8" font-family='"Liberation Sans", Arial, sans-serif' textLength="175" lengthAdjust="spacingAndGlyphs">Ultimate tensile strength (MPa)</text>
</svg></body></html>
